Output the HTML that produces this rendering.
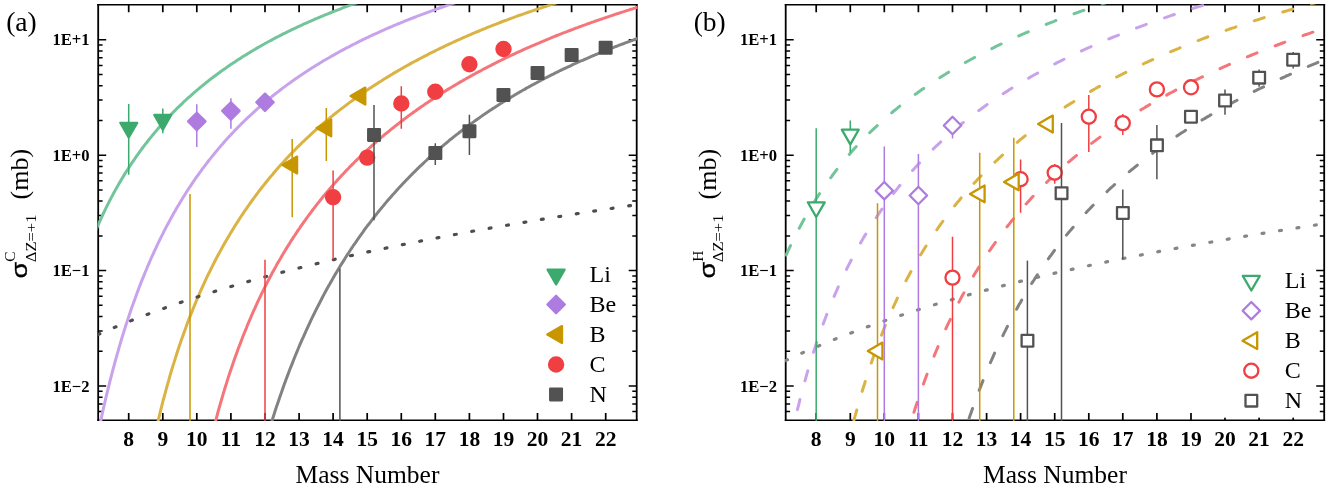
<!DOCTYPE html>
<html><head><meta charset="utf-8"><title>Charge pickup cross sections</title>
<style>
html,body{margin:0;padding:0;background:#fff;}
body{width:1329px;height:490px;overflow:hidden;font-family:"Liberation Serif",serif;}
svg{display:block;}
svg text{font-family:"Liberation Serif",serif;fill:#000;filter:grayscale(1);}
</style></head><body>
<svg width="1329" height="490" viewBox="0 0 1329 490">
<rect width="1329" height="490" fill="#fff"/>
<defs><clipPath id="clipa"><rect x="97.60" y="4.20" width="539.70" height="416.70"/></clipPath><clipPath id="clipb"><rect x="785.10" y="4.20" width="539.70" height="416.70"/></clipPath></defs>
<path d="M128.7,420.3 v-7.4 M128.7,4.8 v7.4 M162.8,420.3 v-7.4 M162.8,4.8 v7.4 M196.8,420.3 v-7.4 M196.8,4.8 v7.4 M230.9,420.3 v-7.4 M230.9,4.8 v7.4 M265.0,420.3 v-7.4 M265.0,4.8 v7.4 M299.1,420.3 v-7.4 M299.1,4.8 v7.4 M333.1,420.3 v-7.4 M333.1,4.8 v7.4 M367.2,420.3 v-7.4 M367.2,4.8 v7.4 M401.3,420.3 v-7.4 M401.3,4.8 v7.4 M435.3,420.3 v-7.4 M435.3,4.8 v7.4 M469.4,420.3 v-7.4 M469.4,4.8 v7.4 M503.5,420.3 v-7.4 M503.5,4.8 v7.4 M537.5,420.3 v-7.4 M537.5,4.8 v7.4 M571.6,420.3 v-7.4 M571.6,4.8 v7.4 M605.7,420.3 v-7.4 M605.7,4.8 v7.4" stroke="#000" stroke-width="1.7" fill="none"/>
<path d="M98.2,411.6 h4.4 M636.7,411.6 h-4.4 M98.2,403.9 h4.4 M636.7,403.9 h-4.4 M98.2,397.2 h4.4 M636.7,397.2 h-4.4 M98.2,391.3 h4.4 M636.7,391.3 h-4.4 M98.2,386.0 h8.0 M636.7,386.0 h-8.0 M98.2,351.3 h4.4 M636.7,351.3 h-4.4 M98.2,330.9 h4.4 M636.7,330.9 h-4.4 M98.2,316.5 h4.4 M636.7,316.5 h-4.4 M98.2,305.3 h4.4 M636.7,305.3 h-4.4 M98.2,296.2 h4.4 M636.7,296.2 h-4.4 M98.2,288.5 h4.4 M636.7,288.5 h-4.4 M98.2,281.8 h4.4 M636.7,281.8 h-4.4 M98.2,275.9 h4.4 M636.7,275.9 h-4.4 M98.2,270.6 h8.0 M636.7,270.6 h-8.0 M98.2,235.9 h4.4 M636.7,235.9 h-4.4 M98.2,215.5 h4.4 M636.7,215.5 h-4.4 M98.2,201.1 h4.4 M636.7,201.1 h-4.4 M98.2,189.9 h4.4 M636.7,189.9 h-4.4 M98.2,180.8 h4.4 M636.7,180.8 h-4.4 M98.2,173.1 h4.4 M636.7,173.1 h-4.4 M98.2,166.4 h4.4 M636.7,166.4 h-4.4 M98.2,160.5 h4.4 M636.7,160.5 h-4.4 M98.2,155.2 h8.0 M636.7,155.2 h-8.0 M98.2,120.5 h4.4 M636.7,120.5 h-4.4 M98.2,100.1 h4.4 M636.7,100.1 h-4.4 M98.2,85.7 h4.4 M636.7,85.7 h-4.4 M98.2,74.5 h4.4 M636.7,74.5 h-4.4 M98.2,65.4 h4.4 M636.7,65.4 h-4.4 M98.2,57.7 h4.4 M636.7,57.7 h-4.4 M98.2,51.0 h4.4 M636.7,51.0 h-4.4 M98.2,45.1 h4.4 M636.7,45.1 h-4.4 M98.2,39.8 h8.0 M636.7,39.8 h-8.0" stroke="#000" stroke-width="1.5" fill="none"/>
<path d="M98.2,4.1 V421.0 M636.7,4.1 V421.0" stroke="#000" stroke-width="1.8" fill="none"/><path d="M97.3,4.8 H637.6 M97.3,420.3 H637.6" stroke="#000" stroke-width="1.45" fill="none"/>
<g clip-path="url(#clipa)">
<path d="M96.3,229.1 L97.7,225.9 L99.1,222.8 L100.4,219.8 L101.8,216.9 L103.1,214.0 L104.5,211.1 L105.8,208.3 L107.2,205.6 L108.6,202.9 L109.9,200.2 L111.3,197.6 L112.6,195.1 L114.0,192.6 L115.3,190.1 L116.7,187.7 L118.1,185.3 L119.4,182.9 L120.8,180.6 L122.1,178.4 L123.5,176.1 L124.8,173.9 L126.2,171.7 L127.6,169.6 L128.9,167.5 L130.3,165.4 L131.6,163.4 L133.0,161.4 L134.4,159.4 L135.7,157.4 L137.1,155.5 L138.4,153.6 L139.8,151.7 L141.1,149.9 L142.5,148.0 L143.9,146.2 L145.2,144.4 L146.6,142.7 L147.9,141.0 L149.3,139.2 L150.6,137.6 L152.0,135.9 L153.4,134.2 L154.7,132.6 L156.1,131.0 L157.4,129.4 L158.8,127.8 L160.1,126.3 L161.5,124.8 L162.9,123.3 L164.2,121.8 L165.6,120.3 L166.9,118.8 L168.3,117.4 L169.7,115.9 L171.0,114.5 L172.4,113.1 L173.7,111.7 L175.1,110.4 L176.4,109.0 L177.8,107.7 L179.2,106.4 L180.5,105.1 L181.9,103.8 L183.2,102.5 L184.6,101.2 L185.9,100.0 L187.3,98.7 L188.7,97.5 L190.0,96.3 L191.4,95.1 L192.7,93.9 L194.1,92.7 L195.4,91.5 L196.8,90.3 L198.2,89.2 L199.5,88.1 L200.9,86.9 L202.2,85.8 L203.6,84.7 L205.0,83.6 L206.3,82.5 L207.7,81.5 L209.0,80.4 L210.4,79.3 L211.7,78.3 L213.1,77.3 L214.5,76.2 L215.8,75.2 L217.2,74.2 L218.5,73.2 L219.9,72.2 L221.2,71.2 L222.6,70.3 L224.0,69.3 L225.3,68.4 L226.7,67.4 L228.0,66.5 L229.4,65.5 L230.7,64.6 L232.1,63.7 L233.5,62.8 L234.8,61.9 L236.2,61.0 L237.5,60.1 L238.9,59.2 L240.3,58.4 L241.6,57.5 L243.0,56.6 L244.3,55.8 L245.7,54.9 L247.0,54.1 L248.4,53.3 L249.8,52.4 L251.1,51.6 L252.5,50.8 L253.8,50.0 L255.2,49.2 L256.5,48.4 L257.9,47.6 L259.3,46.8 L260.6,46.1 L262.0,45.3 L263.3,44.5 L264.7,43.8 L266.0,43.0 L267.4,42.3 L268.8,41.5 L270.1,40.8 L271.5,40.1 L272.8,39.3 L274.2,38.6 L275.5,37.9 L276.9,37.2 L278.3,36.5 L279.6,35.8 L281.0,35.1 L282.3,34.4 L283.7,33.7 L285.1,33.1 L286.4,32.4 L287.8,31.7 L289.1,31.0 L290.5,30.4 L291.8,29.7 L293.2,29.1 L294.6,28.4 L295.9,27.8 L297.3,27.1 L298.6,26.5 L300.0,25.9 L301.3,25.3 L302.7,24.6 L304.1,24.0 L305.4,23.4 L306.8,22.8 L308.1,22.2 L309.5,21.6 L310.8,21.0 L312.2,20.4 L313.6,19.8 L314.9,19.2 L316.3,18.6 L317.6,18.1 L319.0,17.5 L320.4,16.9 L321.7,16.3 L323.1,15.8 L324.4,15.2 L325.8,14.7 L327.1,14.1 L328.5,13.6 L329.9,13.0 L331.2,12.5 L332.6,11.9 L333.9,11.4 L335.3,10.9 L336.6,10.3 L338.0,9.8 L339.4,9.3 L340.7,8.8 L342.1,8.2 L343.4,7.7 L344.8,7.2 L346.1,6.7 L347.5,6.2 L348.9,5.7 L350.2,5.2 L351.6,4.7 L352.9,4.2 L354.3,3.7 L355.7,3.2 L357.0,2.8 L358.4,2.3 L359.7,1.8 L361.1,1.3 L362.4,0.8 L363.8,0.4 L365.2,-0.1 L366.5,-0.6 L367.9,-1.0 L369.2,-1.5 L370.6,-1.9 L371.9,-2.4 L373.3,-2.8 L374.7,-3.3 L376.0,-3.7 L377.4,-4.2 L378.7,-4.6 L380.1,-5.1 L381.4,-5.5 L382.8,-5.9 L384.2,-6.4 L385.5,-6.8 L386.9,-7.2 L388.2,-7.6 L389.6,-8.1 L391.0,-8.5 L392.3,-8.9 L393.7,-9.3 L395.0,-9.7 L396.4,-10.2 L397.7,-10.6 L399.1,-11.0 L400.5,-11.4 L401.8,-11.8 L403.2,-12.2 L404.5,-12.6 L405.9,-13.0 L407.2,-13.4 L408.6,-13.8 L410.0,-14.1 L411.3,-14.5 L412.7,-14.9 L414.0,-15.3 L415.4,-15.7 L416.7,-16.1 L418.1,-16.4 L419.5,-16.8 L420.8,-17.2 L422.2,-17.6 L423.5,-17.9 L424.9,-18.3 L426.3,-18.7 L427.6,-19.0 L429.0,-19.4 L430.3,-19.7 L431.7,-20.1 L433.0,-20.5 L434.4,-20.8 L435.8,-21.2 L437.1,-21.5 L438.5,-21.9 L439.8,-22.2 L441.2,-22.6 L442.5,-22.9 L443.9,-23.3 L445.3,-23.6 L446.6,-23.9 L448.0,-24.3 L449.3,-24.6 L450.7,-24.9 L452.0,-25.3 L453.4,-25.6 L454.8,-25.9 L456.1,-26.3 L457.5,-26.6 L458.8,-26.9 L460.2,-27.2 L461.6,-27.6 L462.9,-27.9 L464.3,-28.2 L465.6,-28.5 L467.0,-28.8 L468.3,-29.1 L469.7,-29.4 L471.1,-29.8 L472.4,-30.1 L473.8,-30.4 L475.1,-30.7 L476.5,-31.0 L477.8,-31.3 L479.2,-31.6 L480.6,-31.9 L481.9,-32.2 L483.3,-32.5 L484.6,-32.8 L486.0,-33.1 L487.3,-33.4 L488.7,-33.7 L490.1,-34.0 L491.4,-34.2 L492.8,-34.5 L494.1,-34.8 L495.5,-35.1" fill="none" stroke="#72C49A" stroke-width="3" stroke-linecap="round"/>
<path d="M96.3,442.0 L97.7,435.3 L99.1,428.7 L100.4,422.3 L101.8,416.0 L103.1,409.9 L104.5,404.0 L105.8,398.1 L107.2,392.4 L108.6,386.9 L109.9,381.4 L111.3,376.1 L112.6,370.9 L114.0,365.8 L115.3,360.8 L116.7,355.9 L118.1,351.1 L119.4,346.4 L120.8,341.8 L122.1,337.3 L123.5,332.9 L124.8,328.6 L126.2,324.3 L127.6,320.1 L128.9,316.1 L130.3,312.0 L131.6,308.1 L133.0,304.2 L134.4,300.4 L135.7,296.7 L137.1,293.0 L138.4,289.4 L139.8,285.8 L141.1,282.4 L142.5,278.9 L143.9,275.6 L145.2,272.2 L146.6,269.0 L147.9,265.8 L149.3,262.6 L150.6,259.5 L152.0,256.4 L153.4,253.4 L154.7,250.5 L156.1,247.6 L157.4,244.7 L158.8,241.8 L160.1,239.1 L161.5,236.3 L162.9,233.6 L164.2,230.9 L165.6,228.3 L166.9,225.7 L168.3,223.2 L169.7,220.6 L171.0,218.2 L172.4,215.7 L173.7,213.3 L175.1,210.9 L176.4,208.6 L177.8,206.2 L179.2,204.0 L180.5,201.7 L181.9,199.5 L183.2,197.3 L184.6,195.1 L185.9,193.0 L187.3,190.8 L188.7,188.7 L190.0,186.7 L191.4,184.6 L192.7,182.6 L194.1,180.7 L195.4,178.7 L196.8,176.7 L198.2,174.8 L199.5,172.9 L200.9,171.1 L202.2,169.2 L203.6,167.4 L205.0,165.6 L206.3,163.8 L207.7,162.0 L209.0,160.3 L210.4,158.6 L211.7,156.9 L213.1,155.2 L214.5,153.5 L215.8,151.9 L217.2,150.2 L218.5,148.6 L219.9,147.0 L221.2,145.4 L222.6,143.9 L224.0,142.3 L225.3,140.8 L226.7,139.3 L228.0,137.8 L229.4,136.3 L230.7,134.9 L232.1,133.4 L233.5,132.0 L234.8,130.5 L236.2,129.1 L237.5,127.7 L238.9,126.4 L240.3,125.0 L241.6,123.6 L243.0,122.3 L244.3,121.0 L245.7,119.7 L247.0,118.4 L248.4,117.1 L249.8,115.8 L251.1,114.5 L252.5,113.3 L253.8,112.1 L255.2,110.8 L256.5,109.6 L257.9,108.4 L259.3,107.2 L260.6,106.0 L262.0,104.9 L263.3,103.7 L264.7,102.5 L266.0,101.4 L267.4,100.3 L268.8,99.1 L270.1,98.0 L271.5,96.9 L272.8,95.8 L274.2,94.8 L275.5,93.7 L276.9,92.6 L278.3,91.6 L279.6,90.5 L281.0,89.5 L282.3,88.4 L283.7,87.4 L285.1,86.4 L286.4,85.4 L287.8,84.4 L289.1,83.4 L290.5,82.5 L291.8,81.5 L293.2,80.5 L294.6,79.6 L295.9,78.6 L297.3,77.7 L298.6,76.7 L300.0,75.8 L301.3,74.9 L302.7,74.0 L304.1,73.1 L305.4,72.2 L306.8,71.3 L308.1,70.4 L309.5,69.5 L310.8,68.7 L312.2,67.8 L313.6,67.0 L314.9,66.1 L316.3,65.3 L317.6,64.4 L319.0,63.6 L320.4,62.8 L321.7,62.0 L323.1,61.1 L324.4,60.3 L325.8,59.5 L327.1,58.7 L328.5,58.0 L329.9,57.2 L331.2,56.4 L332.6,55.6 L333.9,54.9 L335.3,54.1 L336.6,53.3 L338.0,52.6 L339.4,51.8 L340.7,51.1 L342.1,50.4 L343.4,49.6 L344.8,48.9 L346.1,48.2 L347.5,47.5 L348.9,46.8 L350.2,46.1 L351.6,45.4 L352.9,44.7 L354.3,44.0 L355.7,43.3 L357.0,42.6 L358.4,41.9 L359.7,41.2 L361.1,40.6 L362.4,39.9 L363.8,39.2 L365.2,38.6 L366.5,37.9 L367.9,37.3 L369.2,36.6 L370.6,36.0 L371.9,35.4 L373.3,34.7 L374.7,34.1 L376.0,33.5 L377.4,32.9 L378.7,32.3 L380.1,31.6 L381.4,31.0 L382.8,30.4 L384.2,29.8 L385.5,29.2 L386.9,28.6 L388.2,28.0 L389.6,27.5 L391.0,26.9 L392.3,26.3 L393.7,25.7 L395.0,25.2 L396.4,24.6 L397.7,24.0 L399.1,23.5 L400.5,22.9 L401.8,22.3 L403.2,21.8 L404.5,21.2 L405.9,20.7 L407.2,20.1 L408.6,19.6 L410.0,19.1 L411.3,18.5 L412.7,18.0 L414.0,17.5 L415.4,17.0 L416.7,16.4 L418.1,15.9 L419.5,15.4 L420.8,14.9 L422.2,14.4 L423.5,13.9 L424.9,13.4 L426.3,12.9 L427.6,12.4 L429.0,11.9 L430.3,11.4 L431.7,10.9 L433.0,10.4 L434.4,9.9 L435.8,9.4 L437.1,8.9 L438.5,8.5 L439.8,8.0 L441.2,7.5 L442.5,7.0 L443.9,6.6 L445.3,6.1 L446.6,5.6 L448.0,5.2 L449.3,4.7 L450.7,4.3 L452.0,3.8 L453.4,3.4 L454.8,2.9 L456.1,2.5 L457.5,2.0 L458.8,1.6 L460.2,1.1 L461.6,0.7 L462.9,0.3 L464.3,-0.2 L465.6,-0.6 L467.0,-1.0 L468.3,-1.5 L469.7,-1.9 L471.1,-2.3 L472.4,-2.7 L473.8,-3.1 L475.1,-3.6 L476.5,-4.0 L477.8,-4.4 L479.2,-4.8 L480.6,-5.2 L481.9,-5.6 L483.3,-6.0 L484.6,-6.4 L486.0,-6.8 L487.3,-7.2 L488.7,-7.6 L490.1,-8.0 L491.4,-8.4 L492.8,-8.8 L494.1,-9.2 L495.5,-9.6 L496.9,-10.0 L498.2,-10.4 L499.6,-10.7 L500.9,-11.1 L502.3,-11.5 L503.6,-11.9 L505.0,-12.2 L506.4,-12.6 L507.7,-13.0 L509.1,-13.4 L510.4,-13.7 L511.8,-14.1 L513.1,-14.5 L514.5,-14.8 L515.9,-15.2 L517.2,-15.6 L518.6,-15.9 L519.9,-16.3 L521.3,-16.6 L522.6,-17.0 L524.0,-17.3 L525.4,-17.7 L526.7,-18.0 L528.1,-18.4 L529.4,-18.7 L530.8,-19.1 L532.2,-19.4 L533.5,-19.8 L534.9,-20.1 L536.2,-20.4 L537.6,-20.8 L538.9,-21.1 L540.3,-21.5 L541.7,-21.8 L543.0,-22.1 L544.4,-22.5 L545.7,-22.8 L547.1,-23.1 L548.4,-23.4 L549.8,-23.8 L551.2,-24.1 L552.5,-24.4 L553.9,-24.7 L555.2,-25.1 L556.6,-25.4 L557.9,-25.7 L559.3,-26.0 L560.7,-26.3 L562.0,-26.6 L563.4,-27.0 L564.7,-27.3 L566.1,-27.6 L567.5,-27.9 L568.8,-28.2 L570.2,-28.5 L571.5,-28.8 L572.9,-29.1 L574.2,-29.4 L575.6,-29.7 L577.0,-30.0 L578.3,-30.3 L579.7,-30.6 L581.0,-30.9 L582.4,-31.2 L583.7,-31.5 L585.1,-31.8 L586.5,-32.1 L587.8,-32.4 L589.2,-32.7 L590.5,-33.0 L591.9,-33.2 L593.2,-33.5 L594.6,-33.8 L596.0,-34.1 L597.3,-34.4 L598.7,-34.7 L600.0,-35.0" fill="none" stroke="#C9A2EC" stroke-width="3" stroke-linecap="round"/>
<path d="M152.9,444.1 L154.2,438.0 L155.5,432.1 L156.9,426.3 L158.2,420.7 L159.5,415.2 L160.8,409.9 L162.1,404.6 L163.4,399.5 L164.8,394.6 L166.1,389.7 L167.4,384.9 L168.7,380.3 L170.0,375.7 L171.3,371.3 L172.6,366.9 L174.0,362.6 L175.3,358.4 L176.6,354.3 L177.9,350.3 L179.2,346.3 L180.5,342.5 L181.8,338.7 L183.2,334.9 L184.5,331.3 L185.8,327.7 L187.1,324.1 L188.4,320.6 L189.7,317.2 L191.0,313.9 L192.4,310.6 L193.7,307.3 L195.0,304.1 L196.3,301.0 L197.6,297.9 L198.9,294.8 L200.2,291.8 L201.6,288.8 L202.9,285.9 L204.2,283.1 L205.5,280.2 L206.8,277.4 L208.1,274.7 L209.5,272.0 L210.8,269.3 L212.1,266.7 L213.4,264.1 L214.7,261.5 L216.0,259.0 L217.3,256.5 L218.7,254.0 L220.0,251.6 L221.3,249.2 L222.6,246.8 L223.9,244.5 L225.2,242.2 L226.5,239.9 L227.9,237.6 L229.2,235.4 L230.5,233.2 L231.8,231.1 L233.1,228.9 L234.4,226.8 L235.7,224.7 L237.1,222.6 L238.4,220.6 L239.7,218.5 L241.0,216.5 L242.3,214.6 L243.6,212.6 L244.9,210.7 L246.3,208.8 L247.6,206.9 L248.9,205.0 L250.2,203.1 L251.5,201.3 L252.8,199.5 L254.2,197.7 L255.5,195.9 L256.8,194.2 L258.1,192.4 L259.4,190.7 L260.7,189.0 L262.0,187.3 L263.4,185.6 L264.7,184.0 L266.0,182.3 L267.3,180.7 L268.6,179.1 L269.9,177.5 L271.2,175.9 L272.6,174.4 L273.9,172.8 L275.2,171.3 L276.5,169.8 L277.8,168.3 L279.1,166.8 L280.4,165.3 L281.8,163.8 L283.1,162.4 L284.4,160.9 L285.7,159.5 L287.0,158.1 L288.3,156.7 L289.6,155.3 L291.0,153.9 L292.3,152.6 L293.6,151.2 L294.9,149.9 L296.2,148.5 L297.5,147.2 L298.9,145.9 L300.2,144.6 L301.5,143.3 L302.8,142.0 L304.1,140.8 L305.4,139.5 L306.7,138.3 L308.1,137.0 L309.4,135.8 L310.7,134.6 L312.0,133.4 L313.3,132.2 L314.6,131.0 L315.9,129.8 L317.3,128.7 L318.6,127.5 L319.9,126.4 L321.2,125.2 L322.5,124.1 L323.8,123.0 L325.1,121.9 L326.5,120.7 L327.8,119.6 L329.1,118.6 L330.4,117.5 L331.7,116.4 L333.0,115.3 L334.3,114.3 L335.7,113.2 L337.0,112.2 L338.3,111.1 L339.6,110.1 L340.9,109.1 L342.2,108.1 L343.6,107.1 L344.9,106.1 L346.2,105.1 L347.5,104.1 L348.8,103.1 L350.1,102.1 L351.4,101.2 L352.8,100.2 L354.1,99.3 L355.4,98.3 L356.7,97.4 L358.0,96.4 L359.3,95.5 L360.6,94.6 L362.0,93.7 L363.3,92.8 L364.6,91.9 L365.9,91.0 L367.2,90.1 L368.5,89.2 L369.8,88.3 L371.2,87.4 L372.5,86.6 L373.8,85.7 L375.1,84.9 L376.4,84.0 L377.7,83.2 L379.0,82.3 L380.4,81.5 L381.7,80.7 L383.0,79.8 L384.3,79.0 L385.6,78.2 L386.9,77.4 L388.3,76.6 L389.6,75.8 L390.9,75.0 L392.2,74.2 L393.5,73.4 L394.8,72.6 L396.1,71.9 L397.5,71.1 L398.8,70.3 L400.1,69.6 L401.4,68.8 L402.7,68.1 L404.0,67.3 L405.3,66.6 L406.7,65.8 L408.0,65.1 L409.3,64.4 L410.6,63.6 L411.9,62.9 L413.2,62.2 L414.5,61.5 L415.9,60.8 L417.2,60.1 L418.5,59.4 L419.8,58.7 L421.1,58.0 L422.4,57.3 L423.8,56.6 L425.1,55.9 L426.4,55.3 L427.7,54.6 L429.0,53.9 L430.3,53.2 L431.6,52.6 L433.0,51.9 L434.3,51.3 L435.6,50.6 L436.9,50.0 L438.2,49.3 L439.5,48.7 L440.8,48.0 L442.2,47.4 L443.5,46.8 L444.8,46.2 L446.1,45.5 L447.4,44.9 L448.7,44.3 L450.0,43.7 L451.4,43.1 L452.7,42.5 L454.0,41.9 L455.3,41.3 L456.6,40.7 L457.9,40.1 L459.2,39.5 L460.6,38.9 L461.9,38.3 L463.2,37.7 L464.5,37.1 L465.8,36.6 L467.1,36.0 L468.5,35.4 L469.8,34.8 L471.1,34.3 L472.4,33.7 L473.7,33.2 L475.0,32.6 L476.3,32.0 L477.7,31.5 L479.0,31.0 L480.3,30.4 L481.6,29.9 L482.9,29.3 L484.2,28.8 L485.5,28.3 L486.9,27.7 L488.2,27.2 L489.5,26.7 L490.8,26.1 L492.1,25.6 L493.4,25.1 L494.7,24.6 L496.1,24.1 L497.4,23.6 L498.7,23.1 L500.0,22.5 L501.3,22.0 L502.6,21.5 L503.9,21.0 L505.3,20.5 L506.6,20.1 L507.9,19.6 L509.2,19.1 L510.5,18.6 L511.8,18.1 L513.2,17.6 L514.5,17.1 L515.8,16.7 L517.1,16.2 L518.4,15.7 L519.7,15.2 L521.0,14.8 L522.4,14.3 L523.7,13.8 L525.0,13.4 L526.3,12.9 L527.6,12.5 L528.9,12.0 L530.2,11.6 L531.6,11.1 L532.9,10.7 L534.2,10.2 L535.5,9.8 L536.8,9.3 L538.1,8.9 L539.4,8.4 L540.8,8.0 L542.1,7.6 L543.4,7.1 L544.7,6.7 L546.0,6.3 L547.3,5.8 L548.6,5.4 L550.0,5.0 L551.3,4.6 L552.6,4.1 L553.9,3.7 L555.2,3.3 L556.5,2.9 L557.9,2.5 L559.2,2.1 L560.5,1.7 L561.8,1.3 L563.1,0.9 L564.4,0.4 L565.7,0.0 L567.1,-0.4 L568.4,-0.8 L569.7,-1.2 L571.0,-1.5 L572.3,-1.9 L573.6,-2.3 L574.9,-2.7 L576.3,-3.1 L577.6,-3.5 L578.9,-3.9 L580.2,-4.3 L581.5,-4.6 L582.8,-5.0 L584.1,-5.4 L585.5,-5.8 L586.8,-6.2 L588.1,-6.5 L589.4,-6.9 L590.7,-7.3 L592.0,-7.6 L593.3,-8.0 L594.7,-8.4 L596.0,-8.7 L597.3,-9.1 L598.6,-9.5 L599.9,-9.8 L601.2,-10.2 L602.6,-10.5 L603.9,-10.9 L605.2,-11.2 L606.5,-11.6 L607.8,-12.0 L609.1,-12.3 L610.4,-12.6 L611.8,-13.0 L613.1,-13.3 L614.4,-13.7 L615.7,-14.0 L617.0,-14.4 L618.3,-14.7 L619.6,-15.0 L621.0,-15.4 L622.3,-15.7 L623.6,-16.1 L624.9,-16.4 L626.2,-16.7 L627.5,-17.0 L628.8,-17.4 L630.2,-17.7 L631.5,-18.0 L632.8,-18.4 L634.1,-18.7 L635.4,-19.0 L636.7,-19.3 L638.0,-19.6" fill="none" stroke="#DAB344" stroke-width="3" stroke-linecap="round"/>
<path d="M210.0,443.1 L211.2,438.3 L212.4,433.5 L213.5,428.9 L214.7,424.3 L215.9,419.8 L217.1,415.5 L218.2,411.2 L219.4,407.0 L220.6,402.8 L221.8,398.8 L222.9,394.8 L224.1,390.9 L225.3,387.0 L226.5,383.3 L227.6,379.6 L228.8,375.9 L230.0,372.3 L231.2,368.8 L232.4,365.3 L233.5,361.9 L234.7,358.6 L235.9,355.3 L237.1,352.0 L238.2,348.8 L239.4,345.7 L240.6,342.6 L241.8,339.5 L242.9,336.5 L244.1,333.5 L245.3,330.6 L246.5,327.7 L247.6,324.8 L248.8,322.0 L250.0,319.3 L251.2,316.5 L252.3,313.8 L253.5,311.2 L254.7,308.6 L255.9,306.0 L257.0,303.4 L258.2,300.9 L259.4,298.4 L260.6,295.9 L261.7,293.5 L262.9,291.1 L264.1,288.7 L265.3,286.4 L266.5,284.0 L267.6,281.7 L268.8,279.5 L270.0,277.2 L271.2,275.0 L272.3,272.8 L273.5,270.7 L274.7,268.5 L275.9,266.4 L277.0,264.3 L278.2,262.3 L279.4,260.2 L280.6,258.2 L281.7,256.2 L282.9,254.2 L284.1,252.2 L285.3,250.3 L286.4,248.4 L287.6,246.5 L288.8,244.6 L290.0,242.7 L291.1,240.9 L292.3,239.1 L293.5,237.2 L294.7,235.5 L295.9,233.7 L297.0,231.9 L298.2,230.2 L299.4,228.5 L300.6,226.7 L301.7,225.1 L302.9,223.4 L304.1,221.7 L305.3,220.1 L306.4,218.4 L307.6,216.8 L308.8,215.2 L310.0,213.6 L311.1,212.1 L312.3,210.5 L313.5,208.9 L314.7,207.4 L315.8,205.9 L317.0,204.4 L318.2,202.9 L319.4,201.4 L320.5,199.9 L321.7,198.5 L322.9,197.0 L324.1,195.6 L325.2,194.2 L326.4,192.8 L327.6,191.4 L328.8,190.0 L330.0,188.6 L331.1,187.2 L332.3,185.9 L333.5,184.6 L334.7,183.2 L335.8,181.9 L337.0,180.6 L338.2,179.3 L339.4,178.0 L340.5,176.7 L341.7,175.4 L342.9,174.2 L344.1,172.9 L345.2,171.7 L346.4,170.4 L347.6,169.2 L348.8,168.0 L349.9,166.8 L351.1,165.6 L352.3,164.4 L353.5,163.2 L354.6,162.0 L355.8,160.9 L357.0,159.7 L358.2,158.6 L359.4,157.4 L360.5,156.3 L361.7,155.2 L362.9,154.1 L364.1,153.0 L365.2,151.9 L366.4,150.8 L367.6,149.7 L368.8,148.6 L369.9,147.5 L371.1,146.5 L372.3,145.4 L373.5,144.4 L374.6,143.3 L375.8,142.3 L377.0,141.2 L378.2,140.2 L379.3,139.2 L380.5,138.2 L381.7,137.2 L382.9,136.2 L384.0,135.2 L385.2,134.2 L386.4,133.2 L387.6,132.3 L388.8,131.3 L389.9,130.3 L391.1,129.4 L392.3,128.4 L393.5,127.5 L394.6,126.6 L395.8,125.6 L397.0,124.7 L398.2,123.8 L399.3,122.9 L400.5,122.0 L401.7,121.1 L402.9,120.2 L404.0,119.3 L405.2,118.4 L406.4,117.5 L407.6,116.6 L408.7,115.8 L409.9,114.9 L411.1,114.0 L412.3,113.2 L413.4,112.3 L414.6,111.5 L415.8,110.7 L417.0,109.8 L418.1,109.0 L419.3,108.2 L420.5,107.3 L421.7,106.5 L422.9,105.7 L424.0,104.9 L425.2,104.1 L426.4,103.3 L427.6,102.5 L428.7,101.7 L429.9,100.9 L431.1,100.1 L432.3,99.4 L433.4,98.6 L434.6,97.8 L435.8,97.1 L437.0,96.3 L438.1,95.5 L439.3,94.8 L440.5,94.0 L441.7,93.3 L442.8,92.6 L444.0,91.8 L445.2,91.1 L446.4,90.4 L447.5,89.6 L448.7,88.9 L449.9,88.2 L451.1,87.5 L452.3,86.8 L453.4,86.1 L454.6,85.4 L455.8,84.7 L457.0,84.0 L458.1,83.3 L459.3,82.6 L460.5,81.9 L461.7,81.2 L462.8,80.6 L464.0,79.9 L465.2,79.2 L466.4,78.5 L467.5,77.9 L468.7,77.2 L469.9,76.6 L471.1,75.9 L472.2,75.3 L473.4,74.6 L474.6,74.0 L475.8,73.3 L476.9,72.7 L478.1,72.1 L479.3,71.4 L480.5,70.8 L481.6,70.2 L482.8,69.5 L484.0,68.9 L485.2,68.3 L486.4,67.7 L487.5,67.1 L488.7,66.5 L489.9,65.9 L491.1,65.3 L492.2,64.7 L493.4,64.1 L494.6,63.5 L495.8,62.9 L496.9,62.3 L498.1,61.7 L499.3,61.1 L500.5,60.5 L501.6,60.0 L502.8,59.4 L504.0,58.8 L505.2,58.2 L506.3,57.7 L507.5,57.1 L508.7,56.6 L509.9,56.0 L511.0,55.4 L512.2,54.9 L513.4,54.3 L514.6,53.8 L515.8,53.2 L516.9,52.7 L518.1,52.1 L519.3,51.6 L520.5,51.1 L521.6,50.5 L522.8,50.0 L524.0,49.5 L525.2,48.9 L526.3,48.4 L527.5,47.9 L528.7,47.4 L529.9,46.9 L531.0,46.3 L532.2,45.8 L533.4,45.3 L534.6,44.8 L535.7,44.3 L536.9,43.8 L538.1,43.3 L539.3,42.8 L540.4,42.3 L541.6,41.8 L542.8,41.3 L544.0,40.8 L545.2,40.3 L546.3,39.8 L547.5,39.3 L548.7,38.9 L549.9,38.4 L551.0,37.9 L552.2,37.4 L553.4,36.9 L554.6,36.5 L555.7,36.0 L556.9,35.5 L558.1,35.0 L559.3,34.6 L560.4,34.1 L561.6,33.7 L562.8,33.2 L564.0,32.7 L565.1,32.3 L566.3,31.8 L567.5,31.4 L568.7,30.9 L569.8,30.5 L571.0,30.0 L572.2,29.6 L573.4,29.1 L574.5,28.7 L575.7,28.2 L576.9,27.8 L578.1,27.4 L579.3,26.9 L580.4,26.5 L581.6,26.1 L582.8,25.6 L584.0,25.2 L585.1,24.8 L586.3,24.4 L587.5,23.9 L588.7,23.5 L589.8,23.1 L591.0,22.7 L592.2,22.2 L593.4,21.8 L594.5,21.4 L595.7,21.0 L596.9,20.6 L598.1,20.2 L599.2,19.8 L600.4,19.4 L601.6,19.0 L602.8,18.6 L603.9,18.2 L605.1,17.8 L606.3,17.4 L607.5,17.0 L608.7,16.6 L609.8,16.2 L611.0,15.8 L612.2,15.4 L613.4,15.0 L614.5,14.6 L615.7,14.2 L616.9,13.8 L618.1,13.5 L619.2,13.1 L620.4,12.7 L621.6,12.3 L622.8,11.9 L623.9,11.6 L625.1,11.2 L626.3,10.8 L627.5,10.4 L628.6,10.1 L629.8,9.7 L631.0,9.3 L632.2,9.0 L633.3,8.6 L634.5,8.2 L635.7,7.9 L636.9,7.5 L638.0,7.2" fill="none" stroke="#F5767A" stroke-width="3" stroke-linecap="round"/>
<path d="M265.6,442.3 L266.7,438.5 L267.8,434.7 L268.9,431.0 L270.0,427.3 L271.1,423.7 L272.2,420.2 L273.3,416.7 L274.4,413.2 L275.5,409.8 L276.6,406.4 L277.8,403.1 L278.9,399.8 L280.0,396.6 L281.1,393.4 L282.2,390.3 L283.3,387.1 L284.4,384.1 L285.5,381.0 L286.6,378.0 L287.7,375.1 L288.8,372.2 L289.9,369.3 L291.1,366.4 L292.2,363.6 L293.3,360.8 L294.4,358.0 L295.5,355.3 L296.6,352.6 L297.7,350.0 L298.8,347.3 L299.9,344.7 L301.0,342.1 L302.1,339.6 L303.3,337.1 L304.4,334.6 L305.5,332.1 L306.6,329.7 L307.7,327.3 L308.8,324.9 L309.9,322.5 L311.0,320.2 L312.1,317.9 L313.2,315.6 L314.3,313.3 L315.4,311.1 L316.6,308.8 L317.7,306.6 L318.8,304.5 L319.9,302.3 L321.0,300.2 L322.1,298.0 L323.2,295.9 L324.3,293.9 L325.4,291.8 L326.5,289.8 L327.6,287.8 L328.7,285.8 L329.9,283.8 L331.0,281.8 L332.1,279.9 L333.2,277.9 L334.3,276.0 L335.4,274.1 L336.5,272.3 L337.6,270.4 L338.7,268.6 L339.8,266.7 L340.9,264.9 L342.1,263.1 L343.2,261.4 L344.3,259.6 L345.4,257.8 L346.5,256.1 L347.6,254.4 L348.7,252.7 L349.8,251.0 L350.9,249.3 L352.0,247.7 L353.1,246.0 L354.2,244.4 L355.4,242.8 L356.5,241.1 L357.6,239.5 L358.7,238.0 L359.8,236.4 L360.9,234.8 L362.0,233.3 L363.1,231.8 L364.2,230.2 L365.3,228.7 L366.4,227.2 L367.5,225.7 L368.7,224.3 L369.8,222.8 L370.9,221.4 L372.0,219.9 L373.1,218.5 L374.2,217.1 L375.3,215.6 L376.4,214.2 L377.5,212.9 L378.6,211.5 L379.7,210.1 L380.9,208.8 L382.0,207.4 L383.1,206.1 L384.2,204.7 L385.3,203.4 L386.4,202.1 L387.5,200.8 L388.6,199.5 L389.7,198.2 L390.8,197.0 L391.9,195.7 L393.0,194.4 L394.2,193.2 L395.3,192.0 L396.4,190.7 L397.5,189.5 L398.6,188.3 L399.7,187.1 L400.8,185.9 L401.9,184.7 L403.0,183.5 L404.1,182.4 L405.2,181.2 L406.4,180.0 L407.5,178.9 L408.6,177.7 L409.7,176.6 L410.8,175.5 L411.9,174.4 L413.0,173.3 L414.1,172.2 L415.2,171.1 L416.3,170.0 L417.4,168.9 L418.5,167.8 L419.7,166.7 L420.8,165.7 L421.9,164.6 L423.0,163.6 L424.1,162.5 L425.2,161.5 L426.3,160.5 L427.4,159.4 L428.5,158.4 L429.6,157.4 L430.7,156.4 L431.8,155.4 L433.0,154.4 L434.1,153.4 L435.2,152.5 L436.3,151.5 L437.4,150.5 L438.5,149.6 L439.6,148.6 L440.7,147.6 L441.8,146.7 L442.9,145.8 L444.0,144.8 L445.2,143.9 L446.3,143.0 L447.4,142.1 L448.5,141.2 L449.6,140.2 L450.7,139.3 L451.8,138.5 L452.9,137.6 L454.0,136.7 L455.1,135.8 L456.2,134.9 L457.3,134.1 L458.5,133.2 L459.6,132.3 L460.7,131.5 L461.8,130.6 L462.9,129.8 L464.0,128.9 L465.1,128.1 L466.2,127.3 L467.3,126.4 L468.4,125.6 L469.5,124.8 L470.7,124.0 L471.8,123.2 L472.9,122.4 L474.0,121.6 L475.1,120.8 L476.2,120.0 L477.3,119.2 L478.4,118.4 L479.5,117.7 L480.6,116.9 L481.7,116.1 L482.8,115.3 L484.0,114.6 L485.1,113.8 L486.2,113.1 L487.3,112.3 L488.4,111.6 L489.5,110.8 L490.6,110.1 L491.7,109.4 L492.8,108.6 L493.9,107.9 L495.0,107.2 L496.1,106.5 L497.3,105.8 L498.4,105.1 L499.5,104.3 L500.6,103.6 L501.7,102.9 L502.8,102.3 L503.9,101.6 L505.0,100.9 L506.1,100.2 L507.2,99.5 L508.3,98.8 L509.5,98.2 L510.6,97.5 L511.7,96.8 L512.8,96.2 L513.9,95.5 L515.0,94.8 L516.1,94.2 L517.2,93.5 L518.3,92.9 L519.4,92.2 L520.5,91.6 L521.6,91.0 L522.8,90.3 L523.9,89.7 L525.0,89.1 L526.1,88.4 L527.2,87.8 L528.3,87.2 L529.4,86.6 L530.5,86.0 L531.6,85.4 L532.7,84.8 L533.8,84.2 L534.9,83.6 L536.1,83.0 L537.2,82.4 L538.3,81.8 L539.4,81.2 L540.5,80.6 L541.6,80.0 L542.7,79.4 L543.8,78.9 L544.9,78.3 L546.0,77.7 L547.1,77.1 L548.3,76.6 L549.4,76.0 L550.5,75.4 L551.6,74.9 L552.7,74.3 L553.8,73.8 L554.9,73.2 L556.0,72.7 L557.1,72.1 L558.2,71.6 L559.3,71.0 L560.4,70.5 L561.6,70.0 L562.7,69.4 L563.8,68.9 L564.9,68.4 L566.0,67.9 L567.1,67.3 L568.2,66.8 L569.3,66.3 L570.4,65.8 L571.5,65.3 L572.6,64.7 L573.8,64.2 L574.9,63.7 L576.0,63.2 L577.1,62.7 L578.2,62.2 L579.3,61.7 L580.4,61.2 L581.5,60.7 L582.6,60.3 L583.7,59.8 L584.8,59.3 L585.9,58.8 L587.1,58.3 L588.2,57.8 L589.3,57.4 L590.4,56.9 L591.5,56.4 L592.6,55.9 L593.7,55.5 L594.8,55.0 L595.9,54.5 L597.0,54.1 L598.1,53.6 L599.2,53.2 L600.4,52.7 L601.5,52.2 L602.6,51.8 L603.7,51.3 L604.8,50.9 L605.9,50.4 L607.0,50.0 L608.1,49.6 L609.2,49.1 L610.3,48.7 L611.4,48.2 L612.6,47.8 L613.7,47.4 L614.8,46.9 L615.9,46.5 L617.0,46.1 L618.1,45.7 L619.2,45.2 L620.3,44.8 L621.4,44.4 L622.5,44.0 L623.6,43.6 L624.7,43.1 L625.9,42.7 L627.0,42.3 L628.1,41.9 L629.2,41.5 L630.3,41.1 L631.4,40.7 L632.5,40.3 L633.6,39.9 L634.7,39.5 L635.8,39.1 L636.9,38.7 L638.0,38.3" fill="none" stroke="#828282" stroke-width="3" stroke-linecap="round"/>
<path d="M96.3,335.3 L97.7,334.7 L99.1,334.1 L100.4,333.5 L101.8,332.9 L103.1,332.3 L104.5,331.7 L105.8,331.1 L107.2,330.5 L108.6,329.9 L109.9,329.4 L111.3,328.8 L112.6,328.2 L114.0,327.6 L115.3,327.1 L116.7,326.5 L118.1,325.9 L119.4,325.4 L120.8,324.8 L122.1,324.3 L123.5,323.7 L124.8,323.2 L126.2,322.6 L127.6,322.1 L128.9,321.5 L130.3,321.0 L131.6,320.4 L133.0,319.9 L134.4,319.4 L135.7,318.8 L137.1,318.3 L138.4,317.8 L139.8,317.3 L141.1,316.7 L142.5,316.2 L143.9,315.7 L145.2,315.2 L146.6,314.7 L147.9,314.2 L149.3,313.6 L150.6,313.1 L152.0,312.6 L153.4,312.1 L154.7,311.6 L156.1,311.1 L157.4,310.6 L158.8,310.1 L160.1,309.7 L161.5,309.2 L162.9,308.7 L164.2,308.2 L165.6,307.7 L166.9,307.2 L168.3,306.7 L169.7,306.3 L171.0,305.8 L172.4,305.3 L173.7,304.8 L175.1,304.4 L176.4,303.9 L177.8,303.4 L179.2,303.0 L180.5,302.5 L181.9,302.0 L183.2,301.6 L184.6,301.1 L185.9,300.7 L187.3,300.2 L188.7,299.8 L190.0,299.3 L191.4,298.9 L192.7,298.4 L194.1,298.0 L195.4,297.5 L196.8,297.1 L198.2,296.7 L199.5,296.2 L200.9,295.8 L202.2,295.3 L203.6,294.9 L205.0,294.5 L206.3,294.0 L207.7,293.6 L209.0,293.2 L210.4,292.8 L211.7,292.3 L213.1,291.9 L214.5,291.5 L215.8,291.1 L217.2,290.7 L218.5,290.2 L219.9,289.8 L221.2,289.4 L222.6,289.0 L224.0,288.6 L225.3,288.2 L226.7,287.8 L228.0,287.4 L229.4,287.0 L230.7,286.6 L232.1,286.2 L233.5,285.8 L234.8,285.4 L236.2,285.0 L237.5,284.6 L238.9,284.2 L240.3,283.8 L241.6,283.4 L243.0,283.0 L244.3,282.6 L245.7,282.2 L247.0,281.8 L248.4,281.5 L249.8,281.1 L251.1,280.7 L252.5,280.3 L253.8,279.9 L255.2,279.6 L256.5,279.2 L257.9,278.8 L259.3,278.4 L260.6,278.1 L262.0,277.7 L263.3,277.3 L264.7,276.9 L266.0,276.6 L267.4,276.2 L268.8,275.8 L270.1,275.5 L271.5,275.1 L272.8,274.7 L274.2,274.4 L275.5,274.0 L276.9,273.7 L278.3,273.3 L279.6,273.0 L281.0,272.6 L282.3,272.2 L283.7,271.9 L285.1,271.5 L286.4,271.2 L287.8,270.8 L289.1,270.5 L290.5,270.1 L291.8,269.8 L293.2,269.4 L294.6,269.1 L295.9,268.8 L297.3,268.4 L298.6,268.1 L300.0,267.7 L301.3,267.4 L302.7,267.1 L304.1,266.7 L305.4,266.4 L306.8,266.1 L308.1,265.7 L309.5,265.4 L310.8,265.1 L312.2,264.7 L313.6,264.4 L314.9,264.1 L316.3,263.7 L317.6,263.4 L319.0,263.1 L320.4,262.8 L321.7,262.4 L323.1,262.1 L324.4,261.8 L325.8,261.5 L327.1,261.1 L328.5,260.8 L329.9,260.5 L331.2,260.2 L332.6,259.9 L333.9,259.6 L335.3,259.2 L336.6,258.9 L338.0,258.6 L339.4,258.3 L340.7,258.0 L342.1,257.7 L343.4,257.4 L344.8,257.1 L346.1,256.8 L347.5,256.5 L348.9,256.1 L350.2,255.8 L351.6,255.5 L352.9,255.2 L354.3,254.9 L355.7,254.6 L357.0,254.3 L358.4,254.0 L359.7,253.7 L361.1,253.4 L362.4,253.1 L363.8,252.8 L365.2,252.5 L366.5,252.2 L367.9,251.9 L369.2,251.7 L370.6,251.4 L371.9,251.1 L373.3,250.8 L374.7,250.5 L376.0,250.2 L377.4,249.9 L378.7,249.6 L380.1,249.3 L381.4,249.0 L382.8,248.8 L384.2,248.5 L385.5,248.2 L386.9,247.9 L388.2,247.6 L389.6,247.3 L391.0,247.0 L392.3,246.8 L393.7,246.5 L395.0,246.2 L396.4,245.9 L397.7,245.6 L399.1,245.4 L400.5,245.1 L401.8,244.8 L403.2,244.5 L404.5,244.3 L405.9,244.0 L407.2,243.7 L408.6,243.4 L410.0,243.2 L411.3,242.9 L412.7,242.6 L414.0,242.4 L415.4,242.1 L416.7,241.8 L418.1,241.6 L419.5,241.3 L420.8,241.0 L422.2,240.7 L423.5,240.5 L424.9,240.2 L426.3,240.0 L427.6,239.7 L429.0,239.4 L430.3,239.2 L431.7,238.9 L433.0,238.6 L434.4,238.4 L435.8,238.1 L437.1,237.9 L438.5,237.6 L439.8,237.3 L441.2,237.1 L442.5,236.8 L443.9,236.6 L445.3,236.3 L446.6,236.1 L448.0,235.8 L449.3,235.5 L450.7,235.3 L452.0,235.0 L453.4,234.8 L454.8,234.5 L456.1,234.3 L457.5,234.0 L458.8,233.8 L460.2,233.5 L461.6,233.3 L462.9,233.0 L464.3,232.8 L465.6,232.5 L467.0,232.3 L468.3,232.0 L469.7,231.8 L471.1,231.5 L472.4,231.3 L473.8,231.0 L475.1,230.8 L476.5,230.6 L477.8,230.3 L479.2,230.1 L480.6,229.8 L481.9,229.6 L483.3,229.3 L484.6,229.1 L486.0,228.9 L487.3,228.6 L488.7,228.4 L490.1,228.1 L491.4,227.9 L492.8,227.7 L494.1,227.4 L495.5,227.2 L496.9,227.0 L498.2,226.7 L499.6,226.5 L500.9,226.2 L502.3,226.0 L503.6,225.8 L505.0,225.5 L506.4,225.3 L507.7,225.1 L509.1,224.8 L510.4,224.6 L511.8,224.4 L513.1,224.1 L514.5,223.9 L515.9,223.7 L517.2,223.5 L518.6,223.2 L519.9,223.0 L521.3,222.8 L522.6,222.5 L524.0,222.3 L525.4,222.1 L526.7,221.9 L528.1,221.6 L529.4,221.4 L530.8,221.2 L532.2,221.0 L533.5,220.7 L534.9,220.5 L536.2,220.3 L537.6,220.1 L538.9,219.8 L540.3,219.6 L541.7,219.4 L543.0,219.2 L544.4,218.9 L545.7,218.7 L547.1,218.5 L548.4,218.3 L549.8,218.1 L551.2,217.8 L552.5,217.6 L553.9,217.4 L555.2,217.2 L556.6,217.0 L557.9,216.7 L559.3,216.5 L560.7,216.3 L562.0,216.1 L563.4,215.9 L564.7,215.7 L566.1,215.4 L567.5,215.2 L568.8,215.0 L570.2,214.8 L571.5,214.6 L572.9,214.4 L574.2,214.2 L575.6,213.9 L577.0,213.7 L578.3,213.5 L579.7,213.3 L581.0,213.1 L582.4,212.9 L583.7,212.7 L585.1,212.5 L586.5,212.3 L587.8,212.0 L589.2,211.8 L590.5,211.6 L591.9,211.4 L593.2,211.2 L594.6,211.0 L596.0,210.8 L597.3,210.6 L598.7,210.4 L600.0,210.2 L601.4,210.0 L602.7,209.8 L604.1,209.5 L605.5,209.3 L606.8,209.1 L608.2,208.9 L609.5,208.7 L610.9,208.5 L612.3,208.3 L613.6,208.1 L615.0,207.9 L616.3,207.7 L617.7,207.5 L619.0,207.3 L620.4,207.1 L621.8,206.9 L623.1,206.7 L624.5,206.5 L625.8,206.3 L627.2,206.1 L628.5,205.9 L629.9,205.7 L631.3,205.5 L632.6,205.3 L634.0,205.1 L635.3,204.9 L636.7,204.7 L638.0,204.5" fill="none" stroke="#4d4d4d" stroke-width="3.2" stroke-linecap="round" stroke-dasharray="1.9 15.77" stroke-dashoffset="-1.9"/>
<path d="M128.7,104.0 V174.7" stroke="#3BAA6C" stroke-width="1.5" fill="none"/>
<path d="M120.3,122.8 L137.2,122.8 L128.7,137.5 Z" fill="#3BAA6C" stroke="#3BAA6C" stroke-width="2.3" stroke-linejoin="round"/>
<path d="M162.8,108.5 V133.3" stroke="#3BAA6C" stroke-width="1.5" fill="none"/>
<path d="M154.3,115.0 L171.2,115.0 L162.8,129.7 Z" fill="#3BAA6C" stroke="#3BAA6C" stroke-width="2.3" stroke-linejoin="round"/>
<path d="M196.8,104.2 V147.1" stroke="#AE7BE0" stroke-width="1.5" fill="none"/>
<path d="M196.8,112.7 L205.5,121.4 L196.8,130.1 L188.1,121.4 Z" fill="#AE7BE0" stroke="#AE7BE0" stroke-width="2.3" stroke-linejoin="round"/>
<path d="M230.9,98.3 V128.8" stroke="#AE7BE0" stroke-width="1.5" fill="none"/>
<path d="M230.9,102.2 L239.6,110.9 L230.9,119.6 L222.2,110.9 Z" fill="#AE7BE0" stroke="#AE7BE0" stroke-width="2.3" stroke-linejoin="round"/>
<path d="M265.0,93.6 L273.7,102.3 L265.0,111.0 L256.3,102.3 Z" fill="#AE7BE0" stroke="#AE7BE0" stroke-width="2.3" stroke-linejoin="round"/>
<path d="M265.0,259.8 V430.0" stroke="#F03F42" stroke-width="1.5" fill="none"/>
<path d="M333.1,170.5 V259.2" stroke="#F03F42" stroke-width="1.5" fill="none"/>
<circle cx="333.1" cy="197.2" r="7.05" fill="#F03F42" stroke="#F03F42" stroke-width="2.3" stroke-linejoin="round"/>
<circle cx="367.2" cy="157.6" r="7.05" fill="#F03F42" stroke="#F03F42" stroke-width="2.3" stroke-linejoin="round"/>
<path d="M401.3,86.3 V128.7" stroke="#F03F42" stroke-width="1.5" fill="none"/>
<circle cx="401.3" cy="103.5" r="7.05" fill="#F03F42" stroke="#F03F42" stroke-width="2.3" stroke-linejoin="round"/>
<circle cx="435.3" cy="91.8" r="7.05" fill="#F03F42" stroke="#F03F42" stroke-width="2.3" stroke-linejoin="round"/>
<circle cx="469.4" cy="64.3" r="7.05" fill="#F03F42" stroke="#F03F42" stroke-width="2.3" stroke-linejoin="round"/>
<circle cx="503.5" cy="49.0" r="7.05" fill="#F03F42" stroke="#F03F42" stroke-width="2.3" stroke-linejoin="round"/>
<path d="M190.0,194.1 V430.0" stroke="#C89600" stroke-width="1.5" fill="none"/>
<path d="M292.2,139.1 V217.3" stroke="#C89600" stroke-width="1.5" fill="none"/>
<path d="M297.1,156.6 L297.1,173.4 L282.5,165.0 Z" fill="#C89600" stroke="#C89600" stroke-width="2.3" stroke-linejoin="round"/>
<path d="M326.3,107.9 V161.0" stroke="#C89600" stroke-width="1.5" fill="none"/>
<path d="M331.2,119.5 L331.2,136.3 L316.6,127.9 Z" fill="#C89600" stroke="#C89600" stroke-width="2.3" stroke-linejoin="round"/>
<path d="M365.3,87.6 L365.3,104.5 L350.6,96.1 Z" fill="#C89600" stroke="#C89600" stroke-width="2.3" stroke-linejoin="round"/>
<path d="M339.9,268.4 V430.0" stroke="#525252" stroke-width="1.5" fill="none"/>
<path d="M374.0,105.0 V220.3" stroke="#525252" stroke-width="1.5" fill="none"/>
<rect x="368.2" y="129.1" width="11.7" height="11.7" fill="#525252" stroke="#525252" stroke-width="2.3" stroke-linejoin="round"/>
<path d="M435.3,143.3 V164.9" stroke="#525252" stroke-width="1.5" fill="none"/>
<rect x="429.5" y="147.2" width="11.7" height="11.7" fill="#525252" stroke="#525252" stroke-width="2.3" stroke-linejoin="round"/>
<path d="M469.4,114.7 V155.1" stroke="#525252" stroke-width="1.5" fill="none"/>
<rect x="463.6" y="125.3" width="11.7" height="11.7" fill="#525252" stroke="#525252" stroke-width="2.3" stroke-linejoin="round"/>
<rect x="497.6" y="89.1" width="11.7" height="11.7" fill="#525252" stroke="#525252" stroke-width="2.3" stroke-linejoin="round"/>
<rect x="531.7" y="67.1" width="11.7" height="11.7" fill="#525252" stroke="#525252" stroke-width="2.3" stroke-linejoin="round"/>
<rect x="565.8" y="49.2" width="11.7" height="11.7" fill="#525252" stroke="#525252" stroke-width="2.3" stroke-linejoin="round"/>
<rect x="599.8" y="41.8" width="11.7" height="11.7" fill="#525252" stroke="#525252" stroke-width="2.3" stroke-linejoin="round"/>
</g>
<path d="M547.6,269.6 L564.6,269.6 L556.1,284.3 Z" fill="#3BAA6C" stroke="#3BAA6C" stroke-width="2.3" stroke-linejoin="round"/>
<text x="589.6" y="281.6" font-size="24">Li</text>
<path d="M556.1,295.8 L564.8,304.5 L556.1,313.2 L547.4,304.5 Z" fill="#AE7BE0" stroke="#AE7BE0" stroke-width="2.3" stroke-linejoin="round"/>
<text x="589.6" y="311.6" font-size="24">Be</text>
<path d="M562.0,326.1 L562.0,342.9 L547.3,334.5 Z" fill="#C89600" stroke="#C89600" stroke-width="2.3" stroke-linejoin="round"/>
<text x="589.6" y="341.6" font-size="24">B</text>
<circle cx="556.1" cy="364.5" r="7.05" fill="#F03F42" stroke="#F03F42" stroke-width="2.3" stroke-linejoin="round"/>
<text x="589.6" y="371.6" font-size="24">C</text>
<rect x="550.2" y="388.6" width="11.7" height="11.7" fill="#525252" stroke="#525252" stroke-width="2.3" stroke-linejoin="round"/>
<text x="589.6" y="401.6" font-size="24">N</text>
<text x="128.7" y="446.4" font-size="21.5" font-weight="bold" text-anchor="middle">8</text>
<text x="162.8" y="446.4" font-size="21.5" font-weight="bold" text-anchor="middle">9</text>
<text x="196.8" y="446.4" font-size="21.5" font-weight="bold" text-anchor="middle">10</text>
<text x="230.9" y="446.4" font-size="21.5" font-weight="bold" text-anchor="middle">11</text>
<text x="265.0" y="446.4" font-size="21.5" font-weight="bold" text-anchor="middle">12</text>
<text x="299.1" y="446.4" font-size="21.5" font-weight="bold" text-anchor="middle">13</text>
<text x="333.1" y="446.4" font-size="21.5" font-weight="bold" text-anchor="middle">14</text>
<text x="367.2" y="446.4" font-size="21.5" font-weight="bold" text-anchor="middle">15</text>
<text x="401.3" y="446.4" font-size="21.5" font-weight="bold" text-anchor="middle">16</text>
<text x="435.3" y="446.4" font-size="21.5" font-weight="bold" text-anchor="middle">17</text>
<text x="469.4" y="446.4" font-size="21.5" font-weight="bold" text-anchor="middle">18</text>
<text x="503.5" y="446.4" font-size="21.5" font-weight="bold" text-anchor="middle">19</text>
<text x="537.5" y="446.4" font-size="21.5" font-weight="bold" text-anchor="middle">20</text>
<text x="571.6" y="446.4" font-size="21.5" font-weight="bold" text-anchor="middle">21</text>
<text x="605.7" y="446.4" font-size="21.5" font-weight="bold" text-anchor="middle">22</text>
<text x="89.6" y="45.3" font-size="16.6" font-weight="bold" text-anchor="end">1E+1</text>
<text x="89.6" y="160.7" font-size="16.6" font-weight="bold" text-anchor="end">1E+0</text>
<text x="89.6" y="276.1" font-size="16.6" font-weight="bold" text-anchor="end">1E−1</text>
<text x="89.6" y="391.5" font-size="16.6" font-weight="bold" text-anchor="end">1E−2</text>
<text x="367.5" y="482.9" font-size="25.5" text-anchor="middle">Mass Number</text>
<text x="6.2" y="30.9" font-size="27.5">(a)</text>
<g transform="translate(0.0,0)"><text transform="translate(27.4,278.6) rotate(-90) scale(1.27,1)" style="font-family:'Liberation Sans',sans-serif" font-size="21.4" stroke="#000" stroke-width="0.35">σ</text><text transform="translate(15.1,261.7) rotate(-90)" font-size="15.4">C</text><text transform="translate(35.5,262.2) rotate(-90)" font-size="15.2" textLength="47.6" lengthAdjust="spacingAndGlyphs">ΔZ=+1</text><text transform="translate(28.4,199.4) rotate(-90)" font-size="26">(mb)</text></g>
<path d="M816.2,420.3 v-7.4 M816.2,4.8 v7.4 M850.3,420.3 v-7.4 M850.3,4.8 v7.4 M884.3,420.3 v-7.4 M884.3,4.8 v7.4 M918.4,420.3 v-7.4 M918.4,4.8 v7.4 M952.5,420.3 v-7.4 M952.5,4.8 v7.4 M986.6,420.3 v-7.4 M986.6,4.8 v7.4 M1020.6,420.3 v-7.4 M1020.6,4.8 v7.4 M1054.7,420.3 v-7.4 M1054.7,4.8 v7.4 M1088.8,420.3 v-7.4 M1088.8,4.8 v7.4 M1122.8,420.3 v-7.4 M1122.8,4.8 v7.4 M1156.9,420.3 v-7.4 M1156.9,4.8 v7.4 M1191.0,420.3 v-7.4 M1191.0,4.8 v7.4 M1225.0,420.3 v-7.4 M1225.0,4.8 v7.4 M1259.1,420.3 v-7.4 M1259.1,4.8 v7.4 M1293.2,420.3 v-7.4 M1293.2,4.8 v7.4" stroke="#000" stroke-width="1.7" fill="none"/>
<path d="M785.7,411.6 h4.4 M1324.2,411.6 h-4.4 M785.7,403.9 h4.4 M1324.2,403.9 h-4.4 M785.7,397.2 h4.4 M1324.2,397.2 h-4.4 M785.7,391.3 h4.4 M1324.2,391.3 h-4.4 M785.7,386.0 h8.0 M1324.2,386.0 h-8.0 M785.7,351.3 h4.4 M1324.2,351.3 h-4.4 M785.7,330.9 h4.4 M1324.2,330.9 h-4.4 M785.7,316.5 h4.4 M1324.2,316.5 h-4.4 M785.7,305.3 h4.4 M1324.2,305.3 h-4.4 M785.7,296.2 h4.4 M1324.2,296.2 h-4.4 M785.7,288.5 h4.4 M1324.2,288.5 h-4.4 M785.7,281.8 h4.4 M1324.2,281.8 h-4.4 M785.7,275.9 h4.4 M1324.2,275.9 h-4.4 M785.7,270.6 h8.0 M1324.2,270.6 h-8.0 M785.7,235.9 h4.4 M1324.2,235.9 h-4.4 M785.7,215.5 h4.4 M1324.2,215.5 h-4.4 M785.7,201.1 h4.4 M1324.2,201.1 h-4.4 M785.7,189.9 h4.4 M1324.2,189.9 h-4.4 M785.7,180.8 h4.4 M1324.2,180.8 h-4.4 M785.7,173.1 h4.4 M1324.2,173.1 h-4.4 M785.7,166.4 h4.4 M1324.2,166.4 h-4.4 M785.7,160.5 h4.4 M1324.2,160.5 h-4.4 M785.7,155.2 h8.0 M1324.2,155.2 h-8.0 M785.7,120.5 h4.4 M1324.2,120.5 h-4.4 M785.7,100.1 h4.4 M1324.2,100.1 h-4.4 M785.7,85.7 h4.4 M1324.2,85.7 h-4.4 M785.7,74.5 h4.4 M1324.2,74.5 h-4.4 M785.7,65.4 h4.4 M1324.2,65.4 h-4.4 M785.7,57.7 h4.4 M1324.2,57.7 h-4.4 M785.7,51.0 h4.4 M1324.2,51.0 h-4.4 M785.7,45.1 h4.4 M1324.2,45.1 h-4.4 M785.7,39.8 h8.0 M1324.2,39.8 h-8.0" stroke="#000" stroke-width="1.5" fill="none"/>
<rect x="1215" y="262" width="98" height="155.7" fill="#fff"/>
<path d="M785.7,4.1 V421.0 M1324.2,4.1 V421.0" stroke="#000" stroke-width="1.8" fill="none"/><path d="M784.8,4.8 H1325.1 M784.8,420.3 H1325.1" stroke="#000" stroke-width="1.45" fill="none"/>
<g clip-path="url(#clipb)">
<path d="M783.8,259.9 L785.2,257.0 L786.6,254.0 L787.9,251.1 L789.3,248.2 L790.6,245.4 L792.0,242.6 L793.3,239.8 L794.7,237.1 L796.1,234.4 L797.4,231.7 L798.8,229.1 L800.1,226.6 L801.5,224.0 L802.8,221.5 L804.2,219.1 L805.6,216.7 L806.9,214.3 L808.3,211.9 L809.6,209.6 L811.0,207.3 L812.3,205.1 L813.7,202.9 L815.1,200.7 L816.4,198.5 L817.8,196.4 L819.1,194.3 L820.5,192.3 L821.9,190.2 L823.2,188.2 L824.6,186.3 L825.9,184.3 L827.3,182.4 L828.6,180.5 L830.0,178.6 L831.4,176.8 L832.7,175.0 L834.1,173.2 L835.4,171.4 L836.8,169.6 L838.1,167.9 L839.5,166.2 L840.9,164.5 L842.2,162.8 L843.6,161.2 L844.9,159.5 L846.3,157.9 L847.6,156.3 L849.0,154.7 L850.4,153.2 L851.7,151.6 L853.1,150.1 L854.4,148.6 L855.8,147.1 L857.2,145.6 L858.5,144.2 L859.9,142.7 L861.2,141.3 L862.6,139.9 L863.9,138.5 L865.3,137.1 L866.7,135.8 L868.0,134.4 L869.4,133.1 L870.7,131.7 L872.1,130.4 L873.4,129.1 L874.8,127.8 L876.2,126.6 L877.5,125.3 L878.9,124.0 L880.2,122.8 L881.6,121.6 L882.9,120.4 L884.3,119.2 L885.7,118.0 L887.0,116.8 L888.4,115.6 L889.7,114.4 L891.1,113.3 L892.5,112.2 L893.8,111.0 L895.2,109.9 L896.5,108.8 L897.9,107.7 L899.2,106.6 L900.6,105.5 L902.0,104.4 L903.3,103.4 L904.7,102.3 L906.0,101.3 L907.4,100.2 L908.7,99.2 L910.1,98.2 L911.5,97.2 L912.8,96.2 L914.2,95.2 L915.5,94.2 L916.9,93.2 L918.2,92.2 L919.6,91.2 L921.0,90.3 L922.3,89.3 L923.7,88.4 L925.0,87.4 L926.4,86.5 L927.8,85.6 L929.1,84.7 L930.5,83.8 L931.8,82.9 L933.2,82.0 L934.5,81.1 L935.9,80.2 L937.3,79.3 L938.6,78.4 L940.0,77.6 L941.3,76.7 L942.7,75.9 L944.0,75.0 L945.4,74.2 L946.8,73.3 L948.1,72.5 L949.5,71.7 L950.8,70.9 L952.2,70.1 L953.5,69.3 L954.9,68.5 L956.3,67.7 L957.6,66.9 L959.0,66.1 L960.3,65.3 L961.7,64.5 L963.0,63.8 L964.4,63.0 L965.8,62.2 L967.1,61.5 L968.5,60.7 L969.8,60.0 L971.2,59.2 L972.6,58.5 L973.9,57.8 L975.3,57.0 L976.6,56.3 L978.0,55.6 L979.3,54.9 L980.7,54.2 L982.1,53.5 L983.4,52.8 L984.8,52.1 L986.1,51.4 L987.5,50.7 L988.8,50.0 L990.2,49.3 L991.6,48.7 L992.9,48.0 L994.3,47.3 L995.6,46.6 L997.0,46.0 L998.3,45.3 L999.7,44.7 L1001.1,44.0 L1002.4,43.4 L1003.8,42.7 L1005.1,42.1 L1006.5,41.5 L1007.9,40.8 L1009.2,40.2 L1010.6,39.6 L1011.9,39.0 L1013.3,38.3 L1014.6,37.7 L1016.0,37.1 L1017.4,36.5 L1018.7,35.9 L1020.1,35.3 L1021.4,34.7 L1022.8,34.1 L1024.1,33.5 L1025.5,32.9 L1026.9,32.4 L1028.2,31.8 L1029.6,31.2 L1030.9,30.6 L1032.3,30.0 L1033.6,29.5 L1035.0,28.9 L1036.4,28.3 L1037.7,27.8 L1039.1,27.2 L1040.4,26.7 L1041.8,26.1 L1043.2,25.6 L1044.5,25.0 L1045.9,24.5 L1047.2,23.9 L1048.6,23.4 L1049.9,22.9 L1051.3,22.3 L1052.7,21.8 L1054.0,21.3 L1055.4,20.7 L1056.7,20.2 L1058.1,19.7 L1059.4,19.2 L1060.8,18.7 L1062.2,18.1 L1063.5,17.6 L1064.9,17.1 L1066.2,16.6 L1067.6,16.1 L1068.9,15.6 L1070.3,15.1 L1071.7,14.6 L1073.0,14.1 L1074.4,13.6 L1075.7,13.1 L1077.1,12.7 L1078.5,12.2 L1079.8,11.7 L1081.2,11.2 L1082.5,10.7 L1083.9,10.3 L1085.2,9.8 L1086.6,9.3 L1088.0,8.8 L1089.3,8.4 L1090.7,7.9 L1092.0,7.4 L1093.4,7.0 L1094.7,6.5 L1096.1,6.1 L1097.5,5.6 L1098.8,5.2 L1100.2,4.7 L1101.5,4.3 L1102.9,3.8 L1104.2,3.4 L1105.6,2.9 L1107.0,2.5 L1108.3,2.0 L1109.7,1.6 L1111.0,1.2 L1112.4,0.7 L1113.8,0.3 L1115.1,-0.1 L1116.5,-0.6 L1117.8,-1.0 L1119.2,-1.4 L1120.5,-1.8 L1121.9,-2.3 L1123.3,-2.7 L1124.6,-3.1 L1126.0,-3.5 L1127.3,-3.9 L1128.7,-4.3 L1130.0,-4.7 L1131.4,-5.2 L1132.8,-5.6 L1134.1,-6.0 L1135.5,-6.4 L1136.8,-6.8 L1138.2,-7.2 L1139.5,-7.6 L1140.9,-8.0 L1142.3,-8.4 L1143.6,-8.8 L1145.0,-9.2 L1146.3,-9.5 L1147.7,-9.9 L1149.1,-10.3 L1150.4,-10.7 L1151.8,-11.1 L1153.1,-11.5 L1154.5,-11.9 L1155.8,-12.2 L1157.2,-12.6 L1158.6,-13.0 L1159.9,-13.4 L1161.3,-13.7 L1162.6,-14.1 L1164.0,-14.5 L1165.3,-14.9 L1166.7,-15.2 L1168.1,-15.6 L1169.4,-16.0 L1170.8,-16.3 L1172.1,-16.7 L1173.5,-17.1 L1174.8,-17.4 L1176.2,-17.8 L1177.6,-18.1 L1178.9,-18.5 L1180.3,-18.8 L1181.6,-19.2 L1183.0,-19.6 L1184.4,-19.9 L1185.7,-20.3 L1187.1,-20.6 L1188.4,-21.0 L1189.8,-21.3 L1191.1,-21.6 L1192.5,-22.0 L1193.9,-22.3 L1195.2,-22.7 L1196.6,-23.0 L1197.9,-23.3 L1199.3,-23.7 L1200.6,-24.0 L1202.0,-24.4 L1203.4,-24.7 L1204.7,-25.0 L1206.1,-25.4 L1207.4,-25.7 L1208.8,-26.0 L1210.1,-26.3 L1211.5,-26.7 L1212.9,-27.0 L1214.2,-27.3 L1215.6,-27.6 L1216.9,-28.0 L1218.3,-28.3 L1219.7,-28.6 L1221.0,-28.9 L1222.4,-29.2 L1223.7,-29.6 L1225.1,-29.9 L1226.4,-30.2 L1227.8,-30.5 L1229.2,-30.8 L1230.5,-31.1 L1231.9,-31.4 L1233.2,-31.7 L1234.6,-32.1 L1235.9,-32.4 L1237.3,-32.7 L1238.7,-33.0 L1240.0,-33.3 L1241.4,-33.6 L1242.7,-33.9 L1244.1,-34.2 L1245.4,-34.5 L1246.8,-34.8 L1248.2,-35.1" fill="none" stroke="#72C49A" stroke-width="3" stroke-linecap="round" stroke-dasharray="10.4 19.4" stroke-dashoffset="-5.4"/>
<path d="M790.6,439.5 L792.0,433.3 L793.3,427.1 L794.7,421.2 L796.1,415.4 L797.4,409.8 L798.8,404.3 L800.1,398.9 L801.5,393.7 L802.8,388.5 L804.2,383.5 L805.6,378.7 L806.9,373.9 L808.3,369.2 L809.6,364.7 L811.0,360.2 L812.3,355.9 L813.7,351.6 L815.1,347.4 L816.4,343.3 L817.8,339.3 L819.1,335.3 L820.5,331.5 L821.9,327.7 L823.2,324.0 L824.6,320.3 L825.9,316.7 L827.3,313.2 L828.6,309.8 L830.0,306.4 L831.4,303.0 L832.7,299.8 L834.1,296.5 L835.4,293.4 L836.8,290.3 L838.1,287.2 L839.5,284.2 L840.9,281.2 L842.2,278.3 L843.6,275.4 L844.9,272.6 L846.3,269.8 L847.6,267.1 L849.0,264.4 L850.4,261.7 L851.7,259.1 L853.1,256.5 L854.4,254.0 L855.8,251.5 L857.2,249.0 L858.5,246.6 L859.9,244.1 L861.2,241.8 L862.6,239.4 L863.9,237.1 L865.3,234.9 L866.7,232.6 L868.0,230.4 L869.4,228.2 L870.7,226.0 L872.1,223.9 L873.4,221.8 L874.8,219.7 L876.2,217.7 L877.5,215.6 L878.9,213.6 L880.2,211.6 L881.6,209.7 L882.9,207.7 L884.3,205.8 L885.7,203.9 L887.0,202.1 L888.4,200.2 L889.7,198.4 L891.1,196.6 L892.5,194.8 L893.8,193.1 L895.2,191.3 L896.5,189.6 L897.9,187.9 L899.2,186.2 L900.6,184.5 L902.0,182.9 L903.3,181.2 L904.7,179.6 L906.0,178.0 L907.4,176.4 L908.7,174.8 L910.1,173.3 L911.5,171.7 L912.8,170.2 L914.2,168.7 L915.5,167.2 L916.9,165.7 L918.2,164.3 L919.6,162.8 L921.0,161.4 L922.3,160.0 L923.7,158.6 L925.0,157.2 L926.4,155.8 L927.8,154.4 L929.1,153.1 L930.5,151.7 L931.8,150.4 L933.2,149.1 L934.5,147.7 L935.9,146.4 L937.3,145.2 L938.6,143.9 L940.0,142.6 L941.3,141.4 L942.7,140.1 L944.0,138.9 L945.4,137.7 L946.8,136.5 L948.1,135.3 L949.5,134.1 L950.8,132.9 L952.2,131.7 L953.5,130.6 L954.9,129.4 L956.3,128.3 L957.6,127.1 L959.0,126.0 L960.3,124.9 L961.7,123.8 L963.0,122.7 L964.4,121.6 L965.8,120.5 L967.1,119.4 L968.5,118.4 L969.8,117.3 L971.2,116.3 L972.6,115.2 L973.9,114.2 L975.3,113.2 L976.6,112.2 L978.0,111.2 L979.3,110.2 L980.7,109.2 L982.1,108.2 L983.4,107.2 L984.8,106.2 L986.1,105.3 L987.5,104.3 L988.8,103.3 L990.2,102.4 L991.6,101.5 L992.9,100.5 L994.3,99.6 L995.6,98.7 L997.0,97.8 L998.3,96.9 L999.7,96.0 L1001.1,95.1 L1002.4,94.2 L1003.8,93.3 L1005.1,92.4 L1006.5,91.6 L1007.9,90.7 L1009.2,89.8 L1010.6,89.0 L1011.9,88.1 L1013.3,87.3 L1014.6,86.4 L1016.0,85.6 L1017.4,84.8 L1018.7,84.0 L1020.1,83.2 L1021.4,82.3 L1022.8,81.5 L1024.1,80.7 L1025.5,79.9 L1026.9,79.2 L1028.2,78.4 L1029.6,77.6 L1030.9,76.8 L1032.3,76.0 L1033.6,75.3 L1035.0,74.5 L1036.4,73.8 L1037.7,73.0 L1039.1,72.3 L1040.4,71.5 L1041.8,70.8 L1043.2,70.0 L1044.5,69.3 L1045.9,68.6 L1047.2,67.9 L1048.6,67.1 L1049.9,66.4 L1051.3,65.7 L1052.7,65.0 L1054.0,64.3 L1055.4,63.6 L1056.7,62.9 L1058.1,62.2 L1059.4,61.5 L1060.8,60.9 L1062.2,60.2 L1063.5,59.5 L1064.9,58.8 L1066.2,58.2 L1067.6,57.5 L1068.9,56.9 L1070.3,56.2 L1071.7,55.5 L1073.0,54.9 L1074.4,54.2 L1075.7,53.6 L1077.1,53.0 L1078.5,52.3 L1079.8,51.7 L1081.2,51.1 L1082.5,50.4 L1083.9,49.8 L1085.2,49.2 L1086.6,48.6 L1088.0,48.0 L1089.3,47.4 L1090.7,46.8 L1092.0,46.2 L1093.4,45.6 L1094.7,45.0 L1096.1,44.4 L1097.5,43.8 L1098.8,43.2 L1100.2,42.6 L1101.5,42.0 L1102.9,41.4 L1104.2,40.9 L1105.6,40.3 L1107.0,39.7 L1108.3,39.2 L1109.7,38.6 L1111.0,38.0 L1112.4,37.5 L1113.8,36.9 L1115.1,36.4 L1116.5,35.8 L1117.8,35.3 L1119.2,34.7 L1120.5,34.2 L1121.9,33.6 L1123.3,33.1 L1124.6,32.6 L1126.0,32.0 L1127.3,31.5 L1128.7,31.0 L1130.0,30.4 L1131.4,29.9 L1132.8,29.4 L1134.1,28.9 L1135.5,28.4 L1136.8,27.8 L1138.2,27.3 L1139.5,26.8 L1140.9,26.3 L1142.3,25.8 L1143.6,25.3 L1145.0,24.8 L1146.3,24.3 L1147.7,23.8 L1149.1,23.3 L1150.4,22.8 L1151.8,22.3 L1153.1,21.8 L1154.5,21.4 L1155.8,20.9 L1157.2,20.4 L1158.6,19.9 L1159.9,19.4 L1161.3,19.0 L1162.6,18.5 L1164.0,18.0 L1165.3,17.6 L1166.7,17.1 L1168.1,16.6 L1169.4,16.2 L1170.8,15.7 L1172.1,15.2 L1173.5,14.8 L1174.8,14.3 L1176.2,13.9 L1177.6,13.4 L1178.9,13.0 L1180.3,12.5 L1181.6,12.1 L1183.0,11.6 L1184.4,11.2 L1185.7,10.7 L1187.1,10.3 L1188.4,9.9 L1189.8,9.4 L1191.1,9.0 L1192.5,8.6 L1193.9,8.1 L1195.2,7.7 L1196.6,7.3 L1197.9,6.9 L1199.3,6.4 L1200.6,6.0 L1202.0,5.6 L1203.4,5.2 L1204.7,4.8 L1206.1,4.3 L1207.4,3.9 L1208.8,3.5 L1210.1,3.1 L1211.5,2.7 L1212.9,2.3 L1214.2,1.9 L1215.6,1.5 L1216.9,1.1 L1218.3,0.7 L1219.7,0.3 L1221.0,-0.1 L1222.4,-0.5 L1223.7,-0.9 L1225.1,-1.3 L1226.4,-1.7 L1227.8,-2.1 L1229.2,-2.5 L1230.5,-2.9 L1231.9,-3.2 L1233.2,-3.6 L1234.6,-4.0 L1235.9,-4.4 L1237.3,-4.8 L1238.7,-5.2 L1240.0,-5.5 L1241.4,-5.9 L1242.7,-6.3 L1244.1,-6.7 L1245.4,-7.0 L1246.8,-7.4 L1248.2,-7.8 L1249.5,-8.1 L1250.9,-8.5 L1252.2,-8.9 L1253.6,-9.2 L1255.0,-9.6 L1256.3,-10.0 L1257.7,-10.3 L1259.0,-10.7 L1260.4,-11.0 L1261.7,-11.4 L1263.1,-11.8 L1264.5,-12.1 L1265.8,-12.5 L1267.2,-12.8 L1268.5,-13.2 L1269.9,-13.5 L1271.2,-13.9 L1272.6,-14.2 L1274.0,-14.6 L1275.3,-14.9 L1276.7,-15.2 L1278.0,-15.6 L1279.4,-15.9 L1280.7,-16.3 L1282.1,-16.6 L1283.5,-16.9 L1284.8,-17.3 L1286.2,-17.6 L1287.5,-17.9 L1288.9,-18.3 L1290.2,-18.6 L1291.6,-18.9 L1293.0,-19.3 L1294.3,-19.6 L1295.7,-19.9 L1297.0,-20.3 L1298.4,-20.6 L1299.8,-20.9 L1301.1,-21.2 L1302.5,-21.6 L1303.8,-21.9 L1305.2,-22.2 L1306.5,-22.5 L1307.9,-22.8 L1309.3,-23.2 L1310.6,-23.5 L1312.0,-23.8 L1313.3,-24.1 L1314.7,-24.4 L1316.0,-24.7 L1317.4,-25.0 L1318.8,-25.4 L1320.1,-25.7 L1321.5,-26.0 L1322.8,-26.3 L1324.2,-26.6 L1325.5,-26.9" fill="none" stroke="#C9A2EC" stroke-width="3" stroke-linecap="round" stroke-dasharray="10.4 19.4" stroke-dashoffset="-30.6"/>
<path d="M848.2,441.1 L849.5,436.6 L850.7,432.0 L852.0,427.4 L853.2,422.9 L854.4,418.4 L855.7,413.9 L856.9,409.5 L858.2,405.1 L859.4,400.8 L860.7,396.6 L861.9,392.4 L863.1,388.3 L864.4,384.3 L865.6,380.3 L866.9,376.4 L868.1,372.5 L869.4,368.8 L870.6,365.1 L871.8,361.4 L873.1,357.8 L874.3,354.3 L875.6,350.8 L876.8,347.4 L878.1,344.1 L879.3,340.8 L880.5,337.5 L881.8,334.4 L883.0,331.2 L884.3,328.1 L885.5,325.1 L886.8,322.1 L888.0,319.1 L889.2,316.2 L890.5,313.4 L891.7,310.5 L893.0,307.8 L894.2,305.0 L895.5,302.3 L896.7,299.7 L897.9,297.0 L899.2,294.4 L900.4,291.9 L901.7,289.4 L902.9,286.9 L904.2,284.4 L905.4,282.0 L906.6,279.6 L907.9,277.3 L909.1,274.9 L910.4,272.6 L911.6,270.4 L912.9,268.1 L914.1,265.9 L915.3,263.7 L916.6,261.6 L917.8,259.5 L919.1,257.3 L920.3,255.3 L921.6,253.2 L922.8,251.2 L924.0,249.2 L925.3,247.2 L926.5,245.2 L927.8,243.3 L929.0,241.3 L930.3,239.4 L931.5,237.6 L932.8,235.7 L934.0,233.9 L935.2,232.0 L936.5,230.2 L937.7,228.5 L939.0,226.7 L940.2,224.9 L941.5,223.2 L942.7,221.5 L943.9,219.8 L945.2,218.1 L946.4,216.5 L947.7,214.8 L948.9,213.2 L950.2,211.6 L951.4,210.0 L952.6,208.4 L953.9,206.8 L955.1,205.3 L956.4,203.8 L957.6,202.2 L958.9,200.7 L960.1,199.2 L961.3,197.7 L962.6,196.3 L963.8,194.8 L965.1,193.4 L966.3,191.9 L967.6,190.5 L968.8,189.1 L970.0,187.7 L971.3,186.3 L972.5,185.0 L973.8,183.6 L975.0,182.3 L976.3,180.9 L977.5,179.6 L978.7,178.3 L980.0,177.0 L981.2,175.7 L982.5,174.4 L983.7,173.2 L985.0,171.9 L986.2,170.6 L987.4,169.4 L988.7,168.2 L989.9,166.9 L991.2,165.7 L992.4,164.5 L993.7,163.3 L994.9,162.2 L996.1,161.0 L997.4,159.8 L998.6,158.7 L999.9,157.5 L1001.1,156.4 L1002.4,155.2 L1003.6,154.1 L1004.8,153.0 L1006.1,151.9 L1007.3,150.8 L1008.6,149.7 L1009.8,148.6 L1011.1,147.5 L1012.3,146.5 L1013.5,145.4 L1014.8,144.4 L1016.0,143.3 L1017.3,142.3 L1018.5,141.2 L1019.8,140.2 L1021.0,139.2 L1022.2,138.2 L1023.5,137.2 L1024.7,136.2 L1026.0,135.2 L1027.2,134.2 L1028.5,133.2 L1029.7,132.3 L1031.0,131.3 L1032.2,130.3 L1033.4,129.4 L1034.7,128.4 L1035.9,127.5 L1037.2,126.6 L1038.4,125.6 L1039.7,124.7 L1040.9,123.8 L1042.1,122.9 L1043.4,122.0 L1044.6,121.1 L1045.9,120.2 L1047.1,119.3 L1048.4,118.4 L1049.6,117.6 L1050.8,116.7 L1052.1,115.8 L1053.3,115.0 L1054.6,114.1 L1055.8,113.3 L1057.1,112.4 L1058.3,111.6 L1059.5,110.7 L1060.8,109.9 L1062.0,109.1 L1063.3,108.3 L1064.5,107.5 L1065.8,106.6 L1067.0,105.8 L1068.2,105.0 L1069.5,104.2 L1070.7,103.4 L1072.0,102.7 L1073.2,101.9 L1074.5,101.1 L1075.7,100.3 L1076.9,99.6 L1078.2,98.8 L1079.4,98.0 L1080.7,97.3 L1081.9,96.5 L1083.2,95.8 L1084.4,95.0 L1085.6,94.3 L1086.9,93.6 L1088.1,92.8 L1089.4,92.1 L1090.6,91.4 L1091.9,90.6 L1093.1,89.9 L1094.3,89.2 L1095.6,88.5 L1096.8,87.8 L1098.1,87.1 L1099.3,86.4 L1100.6,85.7 L1101.8,85.0 L1103.0,84.3 L1104.3,83.7 L1105.5,83.0 L1106.8,82.3 L1108.0,81.6 L1109.3,81.0 L1110.5,80.3 L1111.7,79.6 L1113.0,79.0 L1114.2,78.3 L1115.5,77.7 L1116.7,77.0 L1118.0,76.4 L1119.2,75.7 L1120.4,75.1 L1121.7,74.5 L1122.9,73.8 L1124.2,73.2 L1125.4,72.6 L1126.7,71.9 L1127.9,71.3 L1129.2,70.7 L1130.4,70.1 L1131.6,69.5 L1132.9,68.9 L1134.1,68.3 L1135.4,67.7 L1136.6,67.1 L1137.9,66.5 L1139.1,65.9 L1140.3,65.3 L1141.6,64.7 L1142.8,64.1 L1144.1,63.5 L1145.3,62.9 L1146.6,62.4 L1147.8,61.8 L1149.0,61.2 L1150.3,60.7 L1151.5,60.1 L1152.8,59.5 L1154.0,59.0 L1155.3,58.4 L1156.5,57.8 L1157.7,57.3 L1159.0,56.7 L1160.2,56.2 L1161.5,55.6 L1162.7,55.1 L1164.0,54.6 L1165.2,54.0 L1166.4,53.5 L1167.7,53.0 L1168.9,52.4 L1170.2,51.9 L1171.4,51.4 L1172.7,50.8 L1173.9,50.3 L1175.1,49.8 L1176.4,49.3 L1177.6,48.8 L1178.9,48.3 L1180.1,47.7 L1181.4,47.2 L1182.6,46.7 L1183.8,46.2 L1185.1,45.7 L1186.3,45.2 L1187.6,44.7 L1188.8,44.2 L1190.1,43.7 L1191.3,43.2 L1192.5,42.8 L1193.8,42.3 L1195.0,41.8 L1196.3,41.3 L1197.5,40.8 L1198.8,40.3 L1200.0,39.9 L1201.2,39.4 L1202.5,38.9 L1203.7,38.4 L1205.0,38.0 L1206.2,37.5 L1207.5,37.0 L1208.7,36.6 L1209.9,36.1 L1211.2,35.7 L1212.4,35.2 L1213.7,34.7 L1214.9,34.3 L1216.2,33.8 L1217.4,33.4 L1218.6,32.9 L1219.9,32.5 L1221.1,32.0 L1222.4,31.6 L1223.6,31.2 L1224.9,30.7 L1226.1,30.3 L1227.3,29.8 L1228.6,29.4 L1229.8,29.0 L1231.1,28.5 L1232.3,28.1 L1233.6,27.7 L1234.8,27.3 L1236.1,26.8 L1237.3,26.4 L1238.5,26.0 L1239.8,25.6 L1241.0,25.2 L1242.3,24.7 L1243.5,24.3 L1244.8,23.9 L1246.0,23.5 L1247.2,23.1 L1248.5,22.7 L1249.7,22.3 L1251.0,21.9 L1252.2,21.5 L1253.5,21.1 L1254.7,20.7 L1255.9,20.3 L1257.2,19.9 L1258.4,19.5 L1259.7,19.1 L1260.9,18.7 L1262.2,18.3 L1263.4,17.9 L1264.6,17.5 L1265.9,17.1 L1267.1,16.7 L1268.4,16.4 L1269.6,16.0 L1270.9,15.6 L1272.1,15.2 L1273.3,14.8 L1274.6,14.5 L1275.8,14.1 L1277.1,13.7 L1278.3,13.3 L1279.6,13.0 L1280.8,12.6 L1282.0,12.2 L1283.3,11.9 L1284.5,11.5 L1285.8,11.1 L1287.0,10.8 L1288.3,10.4 L1289.5,10.0 L1290.7,9.7 L1292.0,9.3 L1293.2,9.0 L1294.5,8.6 L1295.7,8.3 L1297.0,7.9 L1298.2,7.5 L1299.4,7.2 L1300.7,6.8 L1301.9,6.5 L1303.2,6.2 L1304.4,5.8 L1305.7,5.5 L1306.9,5.1 L1308.1,4.8 L1309.4,4.4 L1310.6,4.1 L1311.9,3.8 L1313.1,3.4 L1314.4,3.1 L1315.6,2.7 L1316.8,2.4 L1318.1,2.1 L1319.3,1.7 L1320.6,1.4 L1321.8,1.1 L1323.1,0.8 L1324.3,0.4 L1325.5,0.1" fill="none" stroke="#DAB344" stroke-width="3" stroke-linecap="round" stroke-dasharray="10.4 19.4" stroke-dashoffset="-21.8"/>
<path d="M904.6,443.5 L905.9,438.8 L907.3,434.1 L908.6,429.6 L909.9,425.1 L911.3,420.7 L912.6,416.3 L914.0,412.1 L915.3,407.9 L916.7,403.8 L918.0,399.8 L919.3,395.8 L920.7,391.9 L922.0,388.1 L923.4,384.3 L924.7,380.6 L926.0,376.9 L927.4,373.3 L928.7,369.7 L930.1,366.2 L931.4,362.8 L932.7,359.4 L934.1,356.1 L935.4,352.8 L936.8,349.5 L938.1,346.4 L939.4,343.2 L940.8,340.1 L942.1,337.0 L943.5,334.0 L944.8,331.1 L946.1,328.1 L947.5,325.2 L948.8,322.4 L950.2,319.6 L951.5,316.8 L952.8,314.0 L954.2,311.3 L955.5,308.7 L956.9,306.0 L958.2,303.4 L959.6,300.9 L960.9,298.3 L962.2,295.8 L963.6,293.4 L964.9,290.9 L966.3,288.5 L967.6,286.1 L968.9,283.8 L970.3,281.4 L971.6,279.1 L973.0,276.9 L974.3,274.6 L975.6,272.4 L977.0,270.2 L978.3,268.0 L979.7,265.9 L981.0,263.8 L982.3,261.7 L983.7,259.6 L985.0,257.5 L986.4,255.5 L987.7,253.5 L989.0,251.5 L990.4,249.6 L991.7,247.6 L993.1,245.7 L994.4,243.8 L995.7,241.9 L997.1,240.0 L998.4,238.2 L999.8,236.4 L1001.1,234.6 L1002.5,232.8 L1003.8,231.0 L1005.1,229.3 L1006.5,227.5 L1007.8,225.8 L1009.2,224.1 L1010.5,222.4 L1011.8,220.8 L1013.2,219.1 L1014.5,217.5 L1015.9,215.8 L1017.2,214.2 L1018.5,212.6 L1019.9,211.1 L1021.2,209.5 L1022.6,208.0 L1023.9,206.4 L1025.2,204.9 L1026.6,203.4 L1027.9,201.9 L1029.3,200.4 L1030.6,199.0 L1031.9,197.5 L1033.3,196.1 L1034.6,194.6 L1036.0,193.2 L1037.3,191.8 L1038.7,190.4 L1040.0,189.0 L1041.3,187.7 L1042.7,186.3 L1044.0,185.0 L1045.4,183.6 L1046.7,182.3 L1048.0,181.0 L1049.4,179.7 L1050.7,178.4 L1052.1,177.1 L1053.4,175.9 L1054.7,174.6 L1056.1,173.3 L1057.4,172.1 L1058.8,170.9 L1060.1,169.6 L1061.4,168.4 L1062.8,167.2 L1064.1,166.0 L1065.5,164.9 L1066.8,163.7 L1068.1,162.5 L1069.5,161.4 L1070.8,160.2 L1072.2,159.1 L1073.5,157.9 L1074.8,156.8 L1076.2,155.7 L1077.5,154.6 L1078.9,153.5 L1080.2,152.4 L1081.6,151.3 L1082.9,150.2 L1084.2,149.2 L1085.6,148.1 L1086.9,147.0 L1088.3,146.0 L1089.6,145.0 L1090.9,143.9 L1092.3,142.9 L1093.6,141.9 L1095.0,140.9 L1096.3,139.9 L1097.6,138.9 L1099.0,137.9 L1100.3,136.9 L1101.7,135.9 L1103.0,134.9 L1104.3,134.0 L1105.7,133.0 L1107.0,132.1 L1108.4,131.1 L1109.7,130.2 L1111.0,129.2 L1112.4,128.3 L1113.7,127.4 L1115.1,126.5 L1116.4,125.6 L1117.7,124.7 L1119.1,123.8 L1120.4,122.9 L1121.8,122.0 L1123.1,121.1 L1124.5,120.2 L1125.8,119.3 L1127.1,118.5 L1128.5,117.6 L1129.8,116.8 L1131.2,115.9 L1132.5,115.1 L1133.8,114.2 L1135.2,113.4 L1136.5,112.6 L1137.9,111.7 L1139.2,110.9 L1140.5,110.1 L1141.9,109.3 L1143.2,108.5 L1144.6,107.7 L1145.9,106.9 L1147.2,106.1 L1148.6,105.3 L1149.9,104.5 L1151.3,103.7 L1152.6,102.9 L1153.9,102.2 L1155.3,101.4 L1156.6,100.6 L1158.0,99.9 L1159.3,99.1 L1160.6,98.4 L1162.0,97.6 L1163.3,96.9 L1164.7,96.1 L1166.0,95.4 L1167.4,94.7 L1168.7,93.9 L1170.0,93.2 L1171.4,92.5 L1172.7,91.8 L1174.1,91.1 L1175.4,90.3 L1176.7,89.6 L1178.1,88.9 L1179.4,88.2 L1180.8,87.5 L1182.1,86.8 L1183.4,86.2 L1184.8,85.5 L1186.1,84.8 L1187.5,84.1 L1188.8,83.4 L1190.1,82.8 L1191.5,82.1 L1192.8,81.4 L1194.2,80.8 L1195.5,80.1 L1196.8,79.5 L1198.2,78.8 L1199.5,78.2 L1200.9,77.5 L1202.2,76.9 L1203.6,76.2 L1204.9,75.6 L1206.2,75.0 L1207.6,74.3 L1208.9,73.7 L1210.3,73.1 L1211.6,72.4 L1212.9,71.8 L1214.3,71.2 L1215.6,70.6 L1217.0,70.0 L1218.3,69.4 L1219.6,68.8 L1221.0,68.2 L1222.3,67.6 L1223.7,67.0 L1225.0,66.4 L1226.3,65.8 L1227.7,65.2 L1229.0,64.6 L1230.4,64.0 L1231.7,63.4 L1233.0,62.9 L1234.4,62.3 L1235.7,61.7 L1237.1,61.1 L1238.4,60.6 L1239.7,60.0 L1241.1,59.4 L1242.4,58.9 L1243.8,58.3 L1245.1,57.7 L1246.5,57.2 L1247.8,56.6 L1249.1,56.1 L1250.5,55.5 L1251.8,55.0 L1253.2,54.4 L1254.5,53.9 L1255.8,53.4 L1257.2,52.8 L1258.5,52.3 L1259.9,51.8 L1261.2,51.2 L1262.5,50.7 L1263.9,50.2 L1265.2,49.6 L1266.6,49.1 L1267.9,48.6 L1269.2,48.1 L1270.6,47.6 L1271.9,47.0 L1273.3,46.5 L1274.6,46.0 L1275.9,45.5 L1277.3,45.0 L1278.6,44.5 L1280.0,44.0 L1281.3,43.5 L1282.6,43.0 L1284.0,42.5 L1285.3,42.0 L1286.7,41.5 L1288.0,41.0 L1289.4,40.5 L1290.7,40.0 L1292.0,39.5 L1293.4,39.0 L1294.7,38.6 L1296.1,38.1 L1297.4,37.6 L1298.7,37.1 L1300.1,36.6 L1301.4,36.2 L1302.8,35.7 L1304.1,35.2 L1305.4,34.7 L1306.8,34.3 L1308.1,33.8 L1309.5,33.3 L1310.8,32.9 L1312.1,32.4 L1313.5,32.0 L1314.8,31.5 L1316.2,31.0 L1317.5,30.6 L1318.8,30.1 L1320.2,29.7 L1321.5,29.2 L1322.9,28.8 L1324.2,28.3 L1325.5,27.9" fill="none" stroke="#F5767A" stroke-width="3" stroke-linecap="round" stroke-dasharray="10.4 19.4" stroke-dashoffset="-2.8"/>
<path d="M961.1,443.3 L962.3,439.3 L963.5,435.4 L964.8,431.5 L966.0,427.7 L967.3,424.0 L968.5,420.3 L969.7,416.6 L971.0,413.0 L972.2,409.5 L973.4,406.0 L974.7,402.6 L975.9,399.2 L977.1,395.8 L978.4,392.5 L979.6,389.3 L980.8,386.1 L982.1,382.9 L983.3,379.8 L984.6,376.7 L985.8,373.7 L987.0,370.7 L988.3,367.8 L989.5,364.8 L990.7,362.0 L992.0,359.1 L993.2,356.3 L994.4,353.5 L995.7,350.8 L996.9,348.1 L998.1,345.4 L999.4,342.8 L1000.6,340.2 L1001.8,337.6 L1003.1,335.1 L1004.3,332.6 L1005.6,330.1 L1006.8,327.6 L1008.0,325.2 L1009.3,322.8 L1010.5,320.4 L1011.7,318.1 L1013.0,315.8 L1014.2,313.5 L1015.4,311.2 L1016.7,309.0 L1017.9,306.8 L1019.1,304.6 L1020.4,302.4 L1021.6,300.2 L1022.9,298.1 L1024.1,296.0 L1025.3,293.9 L1026.6,291.9 L1027.8,289.9 L1029.0,287.8 L1030.3,285.8 L1031.5,283.9 L1032.7,281.9 L1034.0,280.0 L1035.2,278.1 L1036.4,276.2 L1037.7,274.3 L1038.9,272.4 L1040.1,270.6 L1041.4,268.8 L1042.6,267.0 L1043.9,265.2 L1045.1,263.4 L1046.3,261.6 L1047.6,259.9 L1048.8,258.2 L1050.0,256.5 L1051.3,254.8 L1052.5,253.1 L1053.7,251.5 L1055.0,249.8 L1056.2,248.2 L1057.4,246.6 L1058.7,245.0 L1059.9,243.4 L1061.2,241.8 L1062.4,240.2 L1063.6,238.7 L1064.9,237.2 L1066.1,235.6 L1067.3,234.1 L1068.6,232.6 L1069.8,231.1 L1071.0,229.7 L1072.3,228.2 L1073.5,226.8 L1074.7,225.3 L1076.0,223.9 L1077.2,222.5 L1078.4,221.1 L1079.7,219.7 L1080.9,218.3 L1082.2,217.0 L1083.4,215.6 L1084.6,214.3 L1085.9,212.9 L1087.1,211.6 L1088.3,210.3 L1089.6,209.0 L1090.8,207.7 L1092.0,206.4 L1093.3,205.1 L1094.5,203.9 L1095.7,202.6 L1097.0,201.4 L1098.2,200.1 L1099.5,198.9 L1100.7,197.7 L1101.9,196.5 L1103.2,195.3 L1104.4,194.1 L1105.6,192.9 L1106.9,191.7 L1108.1,190.5 L1109.3,189.4 L1110.6,188.2 L1111.8,187.1 L1113.0,186.0 L1114.3,184.8 L1115.5,183.7 L1116.7,182.6 L1118.0,181.5 L1119.2,180.4 L1120.5,179.3 L1121.7,178.2 L1122.9,177.1 L1124.2,176.1 L1125.4,175.0 L1126.6,174.0 L1127.9,172.9 L1129.1,171.9 L1130.3,170.8 L1131.6,169.8 L1132.8,168.8 L1134.0,167.8 L1135.3,166.8 L1136.5,165.8 L1137.8,164.8 L1139.0,163.8 L1140.2,162.8 L1141.5,161.8 L1142.7,160.8 L1143.9,159.9 L1145.2,158.9 L1146.4,157.9 L1147.6,157.0 L1148.9,156.1 L1150.1,155.1 L1151.3,154.2 L1152.6,153.3 L1153.8,152.3 L1155.1,151.4 L1156.3,150.5 L1157.5,149.6 L1158.8,148.7 L1160.0,147.8 L1161.2,146.9 L1162.5,146.0 L1163.7,145.2 L1164.9,144.3 L1166.2,143.4 L1167.4,142.5 L1168.6,141.7 L1169.9,140.8 L1171.1,140.0 L1172.3,139.1 L1173.6,138.3 L1174.8,137.5 L1176.1,136.6 L1177.3,135.8 L1178.5,135.0 L1179.8,134.1 L1181.0,133.3 L1182.2,132.5 L1183.5,131.7 L1184.7,130.9 L1185.9,130.1 L1187.2,129.3 L1188.4,128.5 L1189.6,127.7 L1190.9,127.0 L1192.1,126.2 L1193.4,125.4 L1194.6,124.6 L1195.8,123.9 L1197.1,123.1 L1198.3,122.3 L1199.5,121.6 L1200.8,120.8 L1202.0,120.1 L1203.2,119.3 L1204.5,118.6 L1205.7,117.9 L1206.9,117.1 L1208.2,116.4 L1209.4,115.7 L1210.6,114.9 L1211.9,114.2 L1213.1,113.5 L1214.4,112.8 L1215.6,112.1 L1216.8,111.4 L1218.1,110.7 L1219.3,110.0 L1220.5,109.3 L1221.8,108.6 L1223.0,107.9 L1224.2,107.2 L1225.5,106.5 L1226.7,105.8 L1227.9,105.2 L1229.2,104.5 L1230.4,103.8 L1231.7,103.1 L1232.9,102.5 L1234.1,101.8 L1235.4,101.1 L1236.6,100.5 L1237.8,99.8 L1239.1,99.2 L1240.3,98.5 L1241.5,97.9 L1242.8,97.2 L1244.0,96.6 L1245.2,95.9 L1246.5,95.3 L1247.7,94.7 L1248.9,94.0 L1250.2,93.4 L1251.4,92.8 L1252.7,92.2 L1253.9,91.5 L1255.1,90.9 L1256.4,90.3 L1257.6,89.7 L1258.8,89.1 L1260.1,88.5 L1261.3,87.9 L1262.5,87.3 L1263.8,86.7 L1265.0,86.1 L1266.2,85.5 L1267.5,84.9 L1268.7,84.3 L1270.0,83.7 L1271.2,83.1 L1272.4,82.5 L1273.7,81.9 L1274.9,81.3 L1276.1,80.8 L1277.4,80.2 L1278.6,79.6 L1279.8,79.0 L1281.1,78.5 L1282.3,77.9 L1283.5,77.3 L1284.8,76.8 L1286.0,76.2 L1287.2,75.6 L1288.5,75.1 L1289.7,74.5 L1291.0,74.0 L1292.2,73.4 L1293.4,72.9 L1294.7,72.3 L1295.9,71.8 L1297.1,71.2 L1298.4,70.7 L1299.6,70.2 L1300.8,69.6 L1302.1,69.1 L1303.3,68.5 L1304.5,68.0 L1305.8,67.5 L1307.0,66.9 L1308.3,66.4 L1309.5,65.9 L1310.7,65.4 L1312.0,64.8 L1313.2,64.3 L1314.4,63.8 L1315.7,63.3 L1316.9,62.8 L1318.1,62.3 L1319.4,61.7 L1320.6,61.2 L1321.8,60.7 L1323.1,60.2 L1324.3,59.7 L1325.5,59.2" fill="none" stroke="#828282" stroke-width="3" stroke-linecap="round" stroke-dasharray="10.4 19.4" stroke-dashoffset="-26.2"/>
<path d="M783.8,361.4 L785.2,360.7 L786.6,360.1 L787.9,359.5 L789.3,358.8 L790.6,358.2 L792.0,357.6 L793.3,357.0 L794.7,356.3 L796.1,355.7 L797.4,355.1 L798.8,354.5 L800.1,353.9 L801.5,353.3 L802.8,352.7 L804.2,352.1 L805.6,351.5 L806.9,350.9 L808.3,350.3 L809.6,349.7 L811.0,349.1 L812.3,348.5 L813.7,348.0 L815.1,347.4 L816.4,346.8 L817.8,346.2 L819.1,345.7 L820.5,345.1 L821.9,344.5 L823.2,344.0 L824.6,343.4 L825.9,342.8 L827.3,342.3 L828.6,341.7 L830.0,341.2 L831.4,340.6 L832.7,340.1 L834.1,339.5 L835.4,339.0 L836.8,338.5 L838.1,337.9 L839.5,337.4 L840.9,336.9 L842.2,336.3 L843.6,335.8 L844.9,335.3 L846.3,334.7 L847.6,334.2 L849.0,333.7 L850.4,333.2 L851.7,332.7 L853.1,332.2 L854.4,331.6 L855.8,331.1 L857.2,330.6 L858.5,330.1 L859.9,329.6 L861.2,329.1 L862.6,328.6 L863.9,328.1 L865.3,327.6 L866.7,327.1 L868.0,326.6 L869.4,326.2 L870.7,325.7 L872.1,325.2 L873.4,324.7 L874.8,324.2 L876.2,323.7 L877.5,323.3 L878.9,322.8 L880.2,322.3 L881.6,321.8 L882.9,321.4 L884.3,320.9 L885.7,320.4 L887.0,320.0 L888.4,319.5 L889.7,319.0 L891.1,318.6 L892.5,318.1 L893.8,317.7 L895.2,317.2 L896.5,316.8 L897.9,316.3 L899.2,315.9 L900.6,315.4 L902.0,315.0 L903.3,314.5 L904.7,314.1 L906.0,313.6 L907.4,313.2 L908.7,312.7 L910.1,312.3 L911.5,311.9 L912.8,311.4 L914.2,311.0 L915.5,310.6 L916.9,310.1 L918.2,309.7 L919.6,309.3 L921.0,308.9 L922.3,308.4 L923.7,308.0 L925.0,307.6 L926.4,307.2 L927.8,306.8 L929.1,306.4 L930.5,305.9 L931.8,305.5 L933.2,305.1 L934.5,304.7 L935.9,304.3 L937.3,303.9 L938.6,303.5 L940.0,303.1 L941.3,302.7 L942.7,302.3 L944.0,301.9 L945.4,301.5 L946.8,301.1 L948.1,300.7 L949.5,300.3 L950.8,299.9 L952.2,299.5 L953.5,299.1 L954.9,298.7 L956.3,298.3 L957.6,298.0 L959.0,297.6 L960.3,297.2 L961.7,296.8 L963.0,296.4 L964.4,296.0 L965.8,295.7 L967.1,295.3 L968.5,294.9 L969.8,294.5 L971.2,294.2 L972.6,293.8 L973.9,293.4 L975.3,293.0 L976.6,292.7 L978.0,292.3 L979.3,291.9 L980.7,291.6 L982.1,291.2 L983.4,290.8 L984.8,290.5 L986.1,290.1 L987.5,289.8 L988.8,289.4 L990.2,289.0 L991.6,288.7 L992.9,288.3 L994.3,288.0 L995.6,287.6 L997.0,287.3 L998.3,286.9 L999.7,286.6 L1001.1,286.2 L1002.4,285.9 L1003.8,285.5 L1005.1,285.2 L1006.5,284.8 L1007.9,284.5 L1009.2,284.1 L1010.6,283.8 L1011.9,283.5 L1013.3,283.1 L1014.6,282.8 L1016.0,282.4 L1017.4,282.1 L1018.7,281.8 L1020.1,281.4 L1021.4,281.1 L1022.8,280.8 L1024.1,280.4 L1025.5,280.1 L1026.9,279.8 L1028.2,279.4 L1029.6,279.1 L1030.9,278.8 L1032.3,278.5 L1033.6,278.1 L1035.0,277.8 L1036.4,277.5 L1037.7,277.2 L1039.1,276.8 L1040.4,276.5 L1041.8,276.2 L1043.2,275.9 L1044.5,275.6 L1045.9,275.2 L1047.2,274.9 L1048.6,274.6 L1049.9,274.3 L1051.3,274.0 L1052.7,273.7 L1054.0,273.4 L1055.4,273.0 L1056.7,272.7 L1058.1,272.4 L1059.4,272.1 L1060.8,271.8 L1062.2,271.5 L1063.5,271.2 L1064.9,270.9 L1066.2,270.6 L1067.6,270.3 L1068.9,270.0 L1070.3,269.7 L1071.7,269.4 L1073.0,269.1 L1074.4,268.8 L1075.7,268.5 L1077.1,268.2 L1078.5,267.9 L1079.8,267.6 L1081.2,267.3 L1082.5,267.0 L1083.9,266.7 L1085.2,266.4 L1086.6,266.1 L1088.0,265.8 L1089.3,265.5 L1090.7,265.2 L1092.0,265.0 L1093.4,264.7 L1094.7,264.4 L1096.1,264.1 L1097.5,263.8 L1098.8,263.5 L1100.2,263.2 L1101.5,262.9 L1102.9,262.7 L1104.2,262.4 L1105.6,262.1 L1107.0,261.8 L1108.3,261.5 L1109.7,261.3 L1111.0,261.0 L1112.4,260.7 L1113.8,260.4 L1115.1,260.1 L1116.5,259.9 L1117.8,259.6 L1119.2,259.3 L1120.5,259.0 L1121.9,258.8 L1123.3,258.5 L1124.6,258.2 L1126.0,257.9 L1127.3,257.7 L1128.7,257.4 L1130.0,257.1 L1131.4,256.9 L1132.8,256.6 L1134.1,256.3 L1135.5,256.1 L1136.8,255.8 L1138.2,255.5 L1139.5,255.3 L1140.9,255.0 L1142.3,254.7 L1143.6,254.5 L1145.0,254.2 L1146.3,253.9 L1147.7,253.7 L1149.1,253.4 L1150.4,253.2 L1151.8,252.9 L1153.1,252.6 L1154.5,252.4 L1155.8,252.1 L1157.2,251.9 L1158.6,251.6 L1159.9,251.3 L1161.3,251.1 L1162.6,250.8 L1164.0,250.6 L1165.3,250.3 L1166.7,250.1 L1168.1,249.8 L1169.4,249.6 L1170.8,249.3 L1172.1,249.1 L1173.5,248.8 L1174.8,248.6 L1176.2,248.3 L1177.6,248.1 L1178.9,247.8 L1180.3,247.6 L1181.6,247.3 L1183.0,247.1 L1184.4,246.8 L1185.7,246.6 L1187.1,246.3 L1188.4,246.1 L1189.8,245.8 L1191.1,245.6 L1192.5,245.3 L1193.9,245.1 L1195.2,244.9 L1196.6,244.6 L1197.9,244.4 L1199.3,244.1 L1200.6,243.9 L1202.0,243.6 L1203.4,243.4 L1204.7,243.2 L1206.1,242.9 L1207.4,242.7 L1208.8,242.5 L1210.1,242.2 L1211.5,242.0 L1212.9,241.7 L1214.2,241.5 L1215.6,241.3 L1216.9,241.0 L1218.3,240.8 L1219.7,240.6 L1221.0,240.3 L1222.4,240.1 L1223.7,239.9 L1225.1,239.6 L1226.4,239.4 L1227.8,239.2 L1229.2,238.9 L1230.5,238.7 L1231.9,238.5 L1233.2,238.3 L1234.6,238.0 L1235.9,237.8 L1237.3,237.6 L1238.7,237.3 L1240.0,237.1 L1241.4,236.9 L1242.7,236.7 L1244.1,236.4 L1245.4,236.2 L1246.8,236.0 L1248.2,235.8 L1249.5,235.5 L1250.9,235.3 L1252.2,235.1 L1253.6,234.9 L1255.0,234.6 L1256.3,234.4 L1257.7,234.2 L1259.0,234.0 L1260.4,233.8 L1261.7,233.5 L1263.1,233.3 L1264.5,233.1 L1265.8,232.9 L1267.2,232.7 L1268.5,232.4 L1269.9,232.2 L1271.2,232.0 L1272.6,231.8 L1274.0,231.6 L1275.3,231.3 L1276.7,231.1 L1278.0,230.9 L1279.4,230.7 L1280.7,230.5 L1282.1,230.3 L1283.5,230.1 L1284.8,229.8 L1286.2,229.6 L1287.5,229.4 L1288.9,229.2 L1290.2,229.0 L1291.6,228.8 L1293.0,228.6 L1294.3,228.3 L1295.7,228.1 L1297.0,227.9 L1298.4,227.7 L1299.8,227.5 L1301.1,227.3 L1302.5,227.1 L1303.8,226.9 L1305.2,226.7 L1306.5,226.5 L1307.9,226.3 L1309.3,226.0 L1310.6,225.8 L1312.0,225.6 L1313.3,225.4 L1314.7,225.2 L1316.0,225.0 L1317.4,224.8 L1318.8,224.6 L1320.1,224.4 L1321.5,224.2 L1322.8,224.0 L1324.2,223.8 L1325.5,223.6" fill="none" stroke="#868686" stroke-width="3.2" stroke-linecap="round" stroke-dasharray="1.9 15.77" stroke-dashoffset="-2.1"/>
<path d="M816.2,128.2 V430.0" stroke="#3BAA6C" stroke-width="1.5" fill="none"/>
<path d="M807.8,202.3 L824.7,202.3 L816.2,217.0 Z" fill="#fff" stroke="#3BAA6C" stroke-width="2.3" stroke-linejoin="round"/>
<path d="M850.3,120.4 V152.7" stroke="#3BAA6C" stroke-width="1.5" fill="none"/>
<path d="M841.8,129.7 L858.7,129.7 L850.3,144.4 Z" fill="#fff" stroke="#3BAA6C" stroke-width="2.3" stroke-linejoin="round"/>
<path d="M884.3,146.5 V430.0" stroke="#AE7BE0" stroke-width="1.5" fill="none"/>
<path d="M884.3,182.0 L893.0,190.7 L884.3,199.4 L875.6,190.7 Z" fill="#fff" stroke="#AE7BE0" stroke-width="2.3" stroke-linejoin="round"/>
<path d="M918.4,154.1 V430.0" stroke="#AE7BE0" stroke-width="1.5" fill="none"/>
<path d="M918.4,186.8 L927.1,195.5 L918.4,204.2 L909.7,195.5 Z" fill="#fff" stroke="#AE7BE0" stroke-width="2.3" stroke-linejoin="round"/>
<path d="M952.5,125.5 V138.4" stroke="#AE7BE0" stroke-width="1.5" fill="none"/>
<path d="M952.5,116.8 L961.2,125.5 L952.5,134.2 L943.8,125.5 Z" fill="#fff" stroke="#AE7BE0" stroke-width="2.3" stroke-linejoin="round"/>
<path d="M952.5,236.7 V430.0" stroke="#F03F42" stroke-width="1.5" fill="none"/>
<circle cx="952.5" cy="277.6" r="7.05" fill="#fff" stroke="#F03F42" stroke-width="2.3" stroke-linejoin="round"/>
<path d="M1020.6,159.6 V212.7" stroke="#F03F42" stroke-width="1.5" fill="none"/>
<circle cx="1020.6" cy="179.2" r="7.05" fill="#fff" stroke="#F03F42" stroke-width="2.3" stroke-linejoin="round"/>
<path d="M1054.7,164.1 V183.7" stroke="#F03F42" stroke-width="1.5" fill="none"/>
<circle cx="1054.7" cy="172.7" r="7.05" fill="#fff" stroke="#F03F42" stroke-width="2.3" stroke-linejoin="round"/>
<path d="M1088.8,94.9 V152.0" stroke="#F03F42" stroke-width="1.5" fill="none"/>
<circle cx="1088.8" cy="116.7" r="7.05" fill="#fff" stroke="#F03F42" stroke-width="2.3" stroke-linejoin="round"/>
<path d="M1122.8,113.9 V135.1" stroke="#F03F42" stroke-width="1.5" fill="none"/>
<circle cx="1122.8" cy="123.1" r="7.05" fill="#fff" stroke="#F03F42" stroke-width="2.3" stroke-linejoin="round"/>
<circle cx="1156.9" cy="89.4" r="7.05" fill="#fff" stroke="#F03F42" stroke-width="2.3" stroke-linejoin="round"/>
<circle cx="1191.0" cy="87.3" r="7.05" fill="#fff" stroke="#F03F42" stroke-width="2.3" stroke-linejoin="round"/>
<path d="M877.5,203.3 V430.0" stroke="#C89600" stroke-width="1.5" fill="none"/>
<path d="M882.4,342.6 L882.4,359.4 L867.8,351.0 Z" fill="#fff" stroke="#C89600" stroke-width="2.3" stroke-linejoin="round"/>
<path d="M979.7,152.7 V430.0" stroke="#C89600" stroke-width="1.5" fill="none"/>
<path d="M984.6,185.5 L984.6,202.3 L970.0,193.9 Z" fill="#fff" stroke="#C89600" stroke-width="2.3" stroke-linejoin="round"/>
<path d="M1013.8,137.8 V430.0" stroke="#C89600" stroke-width="1.5" fill="none"/>
<path d="M1018.7,173.5 L1018.7,190.3 L1004.1,181.9 Z" fill="#fff" stroke="#C89600" stroke-width="2.3" stroke-linejoin="round"/>
<path d="M1052.8,115.6 L1052.8,132.5 L1038.1,124.1 Z" fill="#fff" stroke="#C89600" stroke-width="2.3" stroke-linejoin="round"/>
<path d="M1027.4,260.6 V430.0" stroke="#525252" stroke-width="1.5" fill="none"/>
<rect x="1021.6" y="334.9" width="11.7" height="11.7" fill="#fff" stroke="#525252" stroke-width="2.3" stroke-linejoin="round"/>
<path d="M1061.5,122.9 V430.0" stroke="#525252" stroke-width="1.5" fill="none"/>
<rect x="1055.7" y="187.3" width="11.7" height="11.7" fill="#fff" stroke="#525252" stroke-width="2.3" stroke-linejoin="round"/>
<path d="M1122.8,189.4 V259.2" stroke="#525252" stroke-width="1.5" fill="none"/>
<rect x="1117.0" y="207.1" width="11.7" height="11.7" fill="#fff" stroke="#525252" stroke-width="2.3" stroke-linejoin="round"/>
<path d="M1156.9,124.9 V179.2" stroke="#525252" stroke-width="1.5" fill="none"/>
<rect x="1151.1" y="139.5" width="11.7" height="11.7" fill="#fff" stroke="#525252" stroke-width="2.3" stroke-linejoin="round"/>
<rect x="1185.1" y="110.9" width="11.7" height="11.7" fill="#fff" stroke="#525252" stroke-width="2.3" stroke-linejoin="round"/>
<path d="M1225.0,89.4 V114.7" stroke="#525252" stroke-width="1.5" fill="none"/>
<rect x="1219.2" y="94.7" width="11.7" height="11.7" fill="#fff" stroke="#525252" stroke-width="2.3" stroke-linejoin="round"/>
<path d="M1259.1,69.4 V86.7" stroke="#525252" stroke-width="1.5" fill="none"/>
<rect x="1253.3" y="71.8" width="11.7" height="11.7" fill="#fff" stroke="#525252" stroke-width="2.3" stroke-linejoin="round"/>
<path d="M1293.2,52.0 V68.4" stroke="#525252" stroke-width="1.5" fill="none"/>
<rect x="1287.3" y="53.9" width="11.7" height="11.7" fill="#fff" stroke="#525252" stroke-width="2.3" stroke-linejoin="round"/>
</g>
<path d="M1242.8,275.8 L1259.8,275.8 L1251.3,290.5 Z" fill="#fff" stroke="#3BAA6C" stroke-width="2.3" stroke-linejoin="round"/>
<text x="1284.8" y="287.8" font-size="24">Li</text>
<path d="M1251.3,302.0 L1260.0,310.7 L1251.3,319.4 L1242.6,310.7 Z" fill="#fff" stroke="#AE7BE0" stroke-width="2.3" stroke-linejoin="round"/>
<text x="1284.8" y="317.8" font-size="24">Be</text>
<path d="M1257.2,332.2 L1257.2,349.1 L1242.5,340.7 Z" fill="#fff" stroke="#C89600" stroke-width="2.3" stroke-linejoin="round"/>
<text x="1284.8" y="347.8" font-size="24">B</text>
<circle cx="1251.3" cy="370.7" r="7.05" fill="#fff" stroke="#F03F42" stroke-width="2.3" stroke-linejoin="round"/>
<text x="1284.8" y="377.8" font-size="24">C</text>
<rect x="1245.5" y="394.8" width="11.7" height="11.7" fill="#fff" stroke="#525252" stroke-width="2.3" stroke-linejoin="round"/>
<text x="1284.8" y="407.8" font-size="24">N</text>
<text x="816.2" y="446.4" font-size="21.5" font-weight="bold" text-anchor="middle">8</text>
<text x="850.3" y="446.4" font-size="21.5" font-weight="bold" text-anchor="middle">9</text>
<text x="884.3" y="446.4" font-size="21.5" font-weight="bold" text-anchor="middle">10</text>
<text x="918.4" y="446.4" font-size="21.5" font-weight="bold" text-anchor="middle">11</text>
<text x="952.5" y="446.4" font-size="21.5" font-weight="bold" text-anchor="middle">12</text>
<text x="986.6" y="446.4" font-size="21.5" font-weight="bold" text-anchor="middle">13</text>
<text x="1020.6" y="446.4" font-size="21.5" font-weight="bold" text-anchor="middle">14</text>
<text x="1054.7" y="446.4" font-size="21.5" font-weight="bold" text-anchor="middle">15</text>
<text x="1088.8" y="446.4" font-size="21.5" font-weight="bold" text-anchor="middle">16</text>
<text x="1122.8" y="446.4" font-size="21.5" font-weight="bold" text-anchor="middle">17</text>
<text x="1156.9" y="446.4" font-size="21.5" font-weight="bold" text-anchor="middle">18</text>
<text x="1191.0" y="446.4" font-size="21.5" font-weight="bold" text-anchor="middle">19</text>
<text x="1225.0" y="446.4" font-size="21.5" font-weight="bold" text-anchor="middle">20</text>
<text x="1259.1" y="446.4" font-size="21.5" font-weight="bold" text-anchor="middle">21</text>
<text x="1293.2" y="446.4" font-size="21.5" font-weight="bold" text-anchor="middle">22</text>
<text x="777.1" y="45.3" font-size="16.6" font-weight="bold" text-anchor="end">1E+1</text>
<text x="777.1" y="160.7" font-size="16.6" font-weight="bold" text-anchor="end">1E+0</text>
<text x="777.1" y="276.1" font-size="16.6" font-weight="bold" text-anchor="end">1E−1</text>
<text x="777.1" y="391.5" font-size="16.6" font-weight="bold" text-anchor="end">1E−2</text>
<text x="1055.0" y="482.9" font-size="25.5" text-anchor="middle">Mass Number</text>
<text x="693.7" y="30.9" font-size="27.5">(b)</text>
<g transform="translate(687.5,0)"><text transform="translate(27.4,278.6) rotate(-90) scale(1.27,1)" style="font-family:'Liberation Sans',sans-serif" font-size="21.4" stroke="#000" stroke-width="0.35">σ</text><text transform="translate(15.1,261.7) rotate(-90)" font-size="15.4">H</text><text transform="translate(35.5,262.2) rotate(-90)" font-size="15.2" textLength="47.6" lengthAdjust="spacingAndGlyphs">ΔZ=+1</text><text transform="translate(28.4,199.4) rotate(-90)" font-size="26">(mb)</text></g>
</svg>
</body></html>
